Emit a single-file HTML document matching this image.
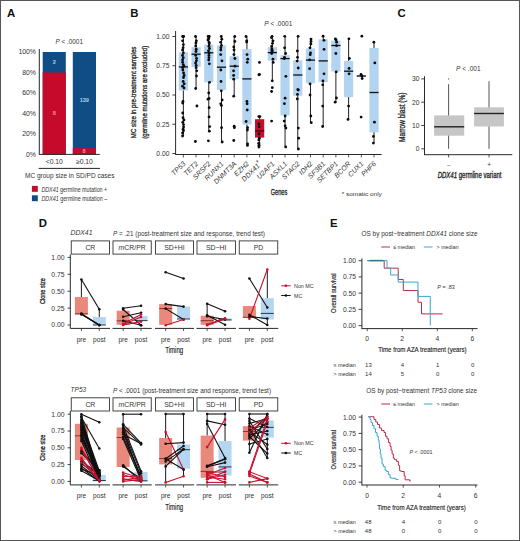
<!DOCTYPE html>
<html><head><meta charset="utf-8"><style>
html,body{margin:0;padding:0;background:#fff;}
body{width:520px;height:541px;overflow:hidden;}
svg{display:block;font-family:"Liberation Sans", sans-serif;}
</style></head><body>
<svg width="520" height="541" viewBox="0 0 520 541">
<rect x="0" y="0" width="520" height="541" fill="#fff"/>
<text x="7.00" y="16.90" font-size="11.4" text-anchor="start" fill="#111" font-weight="bold" >A</text>
<text x="69.20" y="43.70" font-size="6.4" text-anchor="middle" fill="#333" ><tspan font-style="italic">P</tspan> &lt; .0001</text>
<rect x="42.70" y="52.00" width="23.10" height="102.40" fill="#104d85" />
<rect x="42.70" y="72.48" width="23.10" height="81.92" fill="#c50a2c" />
<rect x="72.80" y="52.00" width="23.20" height="102.40" fill="#104d85" />
<rect x="72.80" y="148.20" width="23.20" height="6.20" fill="#c50a2c" />
<text x="36.00" y="156.80" font-size="6.9" text-anchor="end" fill="#333" >0%</text>
<text x="36.00" y="136.32" font-size="6.9" text-anchor="end" fill="#333" >20%</text>
<text x="36.00" y="115.84" font-size="6.9" text-anchor="end" fill="#333" >40%</text>
<text x="36.00" y="95.36" font-size="6.9" text-anchor="end" fill="#333" >60%</text>
<text x="36.00" y="74.88" font-size="6.9" text-anchor="end" fill="#333" >80%</text>
<text x="36.00" y="54.40" font-size="6.9" text-anchor="end" fill="#333" >100%</text>
<line x1="39.30" y1="49.00" x2="39.30" y2="154.90" stroke="#2a2a2a" stroke-width="1.0" />
<line x1="39.30" y1="154.40" x2="99.80" y2="154.40" stroke="#2a2a2a" stroke-width="1.0" />
<text x="54.20" y="63.80" font-size="5.6" text-anchor="middle" fill="#a9cdef" font-weight="bold" >2</text>
<text x="54.20" y="115.00" font-size="5.6" text-anchor="middle" fill="#ff8a9c" font-weight="bold" >8</text>
<text x="84.30" y="102.20" font-size="5.6" text-anchor="middle" fill="#a9cdef" font-weight="bold" >139</text>
<text x="84.00" y="153.40" font-size="5.6" text-anchor="middle" fill="#ff8a9c" font-weight="bold" >8</text>
<text x="54.30" y="163.80" font-size="6.8" text-anchor="middle" fill="#333" >&lt;0.10</text>
<text x="84.40" y="163.80" font-size="6.8" text-anchor="middle" fill="#333" >&#8805;0.10</text>
<line x1="38.70" y1="168.40" x2="100.00" y2="168.40" stroke="#222" stroke-width="1.0" />
<text x="25.00" y="178.40" font-size="7.3" text-anchor="start" fill="#333" textLength="89.5" lengthAdjust="spacingAndGlyphs" >MC group size in SD/PD cases</text>
<rect x="31.90" y="185.90" width="5.90" height="5.90" fill="#c50a2c" />
<text x="41.40" y="191.50" font-size="6.4" text-anchor="start" fill="#333" textLength="65.8" lengthAdjust="spacingAndGlyphs" ><tspan font-style="italic">DDX41</tspan> germline mutation +</text>
<rect x="31.90" y="195.30" width="5.90" height="5.90" fill="#104d85" />
<text x="41.40" y="200.90" font-size="6.4" text-anchor="start" fill="#333" textLength="65.8" lengthAdjust="spacingAndGlyphs" ><tspan font-style="italic">DDX41</tspan> germline mutation &#8211;</text>
<text x="130.30" y="16.90" font-size="11.4" text-anchor="start" fill="#111" font-weight="bold" >B</text>
<text x="278.30" y="26.40" font-size="6.5" text-anchor="middle" fill="#333" ><tspan font-style="italic">P</tspan> &lt; .0001</text>
<line x1="175.60" y1="31.00" x2="175.60" y2="155.00" stroke="#2a2a2a" stroke-width="1.0" />
<line x1="175.60" y1="154.50" x2="381.60" y2="154.50" stroke="#2a2a2a" stroke-width="1.0" />
<line x1="172.40" y1="153.50" x2="175.60" y2="153.50" stroke="#2a2a2a" stroke-width="0.9" />
<text x="169.40" y="155.90" font-size="6.7" text-anchor="end" fill="#333" >0.00</text>
<line x1="172.40" y1="124.25" x2="175.60" y2="124.25" stroke="#2a2a2a" stroke-width="0.9" />
<text x="169.40" y="126.65" font-size="6.7" text-anchor="end" fill="#333" >0.25</text>
<line x1="172.40" y1="95.00" x2="175.60" y2="95.00" stroke="#2a2a2a" stroke-width="0.9" />
<text x="169.40" y="97.40" font-size="6.7" text-anchor="end" fill="#333" >0.50</text>
<line x1="172.40" y1="65.75" x2="175.60" y2="65.75" stroke="#2a2a2a" stroke-width="0.9" />
<text x="169.40" y="68.15" font-size="6.7" text-anchor="end" fill="#333" >0.75</text>
<line x1="172.40" y1="36.50" x2="175.60" y2="36.50" stroke="#2a2a2a" stroke-width="0.9" />
<text x="169.40" y="38.90" font-size="6.7" text-anchor="end" fill="#333" >1.00</text>
<text x="136.50" y="92.40" font-size="8.0" text-anchor="middle" fill="#222" textLength="91.5" lengthAdjust="spacingAndGlyphs" transform="rotate(-90 136.50 92.40)" stroke="#222" stroke-width="0.3">MC size in pre-treatment samples</text>
<text x="146.70" y="92.30" font-size="8.0" text-anchor="middle" fill="#222" textLength="93.0" lengthAdjust="spacingAndGlyphs" transform="rotate(-90 146.70 92.30)" stroke="#222" stroke-width="0.3">(germline mutations are excluded)</text>
<line x1="183.35" y1="36.50" x2="183.35" y2="136.00" stroke="#222" stroke-width="1.0" />
<rect x="178.75" y="52.30" width="9.20" height="38.20" fill="#b2d4f0" />
<line x1="178.75" y1="66.90" x2="187.95" y2="66.90" stroke="#111" stroke-width="1.3" />
<circle cx="183.03" cy="36.50" r="1.4" fill="#0a0a0a"/>
<circle cx="182.72" cy="36.50" r="1.4" fill="#0a0a0a"/>
<circle cx="183.62" cy="36.50" r="1.4" fill="#0a0a0a"/>
<circle cx="182.58" cy="40.80" r="1.4" fill="#0a0a0a"/>
<circle cx="183.41" cy="44.60" r="1.4" fill="#0a0a0a"/>
<circle cx="183.11" cy="47.70" r="1.4" fill="#0a0a0a"/>
<circle cx="182.55" cy="50.00" r="1.4" fill="#0a0a0a"/>
<circle cx="183.36" cy="53.00" r="1.4" fill="#0a0a0a"/>
<circle cx="182.52" cy="55.40" r="1.4" fill="#0a0a0a"/>
<circle cx="183.23" cy="57.70" r="1.4" fill="#0a0a0a"/>
<circle cx="182.58" cy="60.00" r="1.4" fill="#0a0a0a"/>
<circle cx="182.61" cy="62.30" r="1.4" fill="#0a0a0a"/>
<circle cx="183.21" cy="64.60" r="1.4" fill="#0a0a0a"/>
<circle cx="183.94" cy="66.20" r="1.4" fill="#0a0a0a"/>
<circle cx="182.67" cy="67.70" r="1.4" fill="#0a0a0a"/>
<circle cx="182.85" cy="70.00" r="1.4" fill="#0a0a0a"/>
<circle cx="183.58" cy="73.00" r="1.4" fill="#0a0a0a"/>
<circle cx="184.16" cy="75.40" r="1.4" fill="#0a0a0a"/>
<circle cx="183.49" cy="77.50" r="1.4" fill="#0a0a0a"/>
<circle cx="183.16" cy="81.50" r="1.4" fill="#0a0a0a"/>
<circle cx="184.21" cy="83.80" r="1.4" fill="#0a0a0a"/>
<circle cx="182.53" cy="86.20" r="1.4" fill="#0a0a0a"/>
<circle cx="184.00" cy="88.00" r="1.4" fill="#0a0a0a"/>
<circle cx="182.97" cy="101.50" r="1.4" fill="#0a0a0a"/>
<circle cx="182.71" cy="103.00" r="1.4" fill="#0a0a0a"/>
<circle cx="182.66" cy="113.00" r="1.4" fill="#0a0a0a"/>
<circle cx="183.01" cy="117.70" r="1.4" fill="#0a0a0a"/>
<circle cx="183.92" cy="120.00" r="1.4" fill="#0a0a0a"/>
<circle cx="182.78" cy="122.30" r="1.4" fill="#0a0a0a"/>
<circle cx="183.50" cy="124.60" r="1.4" fill="#0a0a0a"/>
<circle cx="183.60" cy="127.00" r="1.4" fill="#0a0a0a"/>
<circle cx="183.12" cy="129.20" r="1.4" fill="#0a0a0a"/>
<circle cx="183.44" cy="130.80" r="1.4" fill="#0a0a0a"/>
<circle cx="182.56" cy="133.00" r="1.4" fill="#0a0a0a"/>
<circle cx="182.56" cy="136.00" r="1.4" fill="#0a0a0a"/>
<line x1="183.35" y1="154.50" x2="183.35" y2="157.40" stroke="#2a2a2a" stroke-width="0.8" />
<text x="185.95" y="164.20" font-size="7.0" text-anchor="end" fill="#333" font-style="italic" transform="rotate(-45 185.95 164.20)" >TP53</text>
<line x1="196.06" y1="36.50" x2="196.06" y2="88.50" stroke="#222" stroke-width="1.0" />
<rect x="191.46" y="47.20" width="9.20" height="19.80" fill="#b2d4f0" />
<line x1="191.46" y1="54.20" x2="200.66" y2="54.20" stroke="#111" stroke-width="1.3" />
<circle cx="195.53" cy="36.50" r="1.4" fill="#0a0a0a"/>
<circle cx="196.39" cy="40.80" r="1.4" fill="#0a0a0a"/>
<circle cx="195.93" cy="43.00" r="1.4" fill="#0a0a0a"/>
<circle cx="195.73" cy="46.00" r="1.4" fill="#0a0a0a"/>
<circle cx="196.22" cy="49.20" r="1.4" fill="#0a0a0a"/>
<circle cx="195.98" cy="51.50" r="1.4" fill="#0a0a0a"/>
<circle cx="195.70" cy="55.40" r="1.4" fill="#0a0a0a"/>
<circle cx="196.59" cy="58.50" r="1.4" fill="#0a0a0a"/>
<circle cx="196.42" cy="60.80" r="1.4" fill="#0a0a0a"/>
<circle cx="195.60" cy="63.00" r="1.4" fill="#0a0a0a"/>
<circle cx="196.20" cy="65.40" r="1.4" fill="#0a0a0a"/>
<circle cx="196.11" cy="67.70" r="1.4" fill="#0a0a0a"/>
<circle cx="196.74" cy="70.80" r="1.4" fill="#0a0a0a"/>
<circle cx="196.48" cy="76.00" r="1.4" fill="#0a0a0a"/>
<circle cx="195.68" cy="88.50" r="1.4" fill="#0a0a0a"/>
<circle cx="196.93" cy="106.00" r="1.4" fill="#0a0a0a"/>
<circle cx="195.37" cy="141.50" r="1.4" fill="#0a0a0a"/>
<line x1="196.06" y1="154.50" x2="196.06" y2="157.40" stroke="#2a2a2a" stroke-width="0.8" />
<text x="198.66" y="164.20" font-size="7.0" text-anchor="end" fill="#333" font-style="italic" transform="rotate(-45 198.66 164.20)" >TET2</text>
<line x1="208.77" y1="36.50" x2="208.77" y2="131.50" stroke="#222" stroke-width="1.0" />
<rect x="204.17" y="44.60" width="9.20" height="37.70" fill="#b2d4f0" />
<line x1="204.17" y1="52.80" x2="213.37" y2="52.80" stroke="#111" stroke-width="1.3" />
<circle cx="208.63" cy="36.50" r="1.4" fill="#0a0a0a"/>
<circle cx="209.24" cy="36.50" r="1.4" fill="#0a0a0a"/>
<circle cx="208.15" cy="36.50" r="1.4" fill="#0a0a0a"/>
<circle cx="208.75" cy="38.50" r="1.4" fill="#0a0a0a"/>
<circle cx="207.94" cy="40.00" r="1.4" fill="#0a0a0a"/>
<circle cx="209.08" cy="42.30" r="1.4" fill="#0a0a0a"/>
<circle cx="209.25" cy="43.80" r="1.4" fill="#0a0a0a"/>
<circle cx="208.91" cy="46.20" r="1.4" fill="#0a0a0a"/>
<circle cx="209.45" cy="48.50" r="1.4" fill="#0a0a0a"/>
<circle cx="208.44" cy="50.80" r="1.4" fill="#0a0a0a"/>
<circle cx="209.13" cy="53.00" r="1.4" fill="#0a0a0a"/>
<circle cx="208.94" cy="55.40" r="1.4" fill="#0a0a0a"/>
<circle cx="208.92" cy="57.70" r="1.4" fill="#0a0a0a"/>
<circle cx="208.70" cy="60.00" r="1.4" fill="#0a0a0a"/>
<circle cx="209.39" cy="63.80" r="1.4" fill="#0a0a0a"/>
<circle cx="209.57" cy="82.30" r="1.4" fill="#0a0a0a"/>
<circle cx="208.73" cy="93.00" r="1.4" fill="#0a0a0a"/>
<circle cx="209.07" cy="98.50" r="1.4" fill="#0a0a0a"/>
<circle cx="207.98" cy="99.20" r="1.4" fill="#0a0a0a"/>
<circle cx="209.14" cy="107.70" r="1.4" fill="#0a0a0a"/>
<circle cx="209.04" cy="116.90" r="1.4" fill="#0a0a0a"/>
<circle cx="209.66" cy="126.60" r="1.4" fill="#0a0a0a"/>
<circle cx="209.35" cy="131.20" r="1.4" fill="#0a0a0a"/>
<circle cx="208.39" cy="140.80" r="1.4" fill="#0a0a0a"/>
<line x1="208.77" y1="154.50" x2="208.77" y2="157.40" stroke="#2a2a2a" stroke-width="0.8" />
<text x="211.37" y="164.20" font-size="7.0" text-anchor="end" fill="#333" font-style="italic" transform="rotate(-45 211.37 164.20)" >SRSF2</text>
<line x1="221.49" y1="36.50" x2="221.49" y2="142.00" stroke="#222" stroke-width="1.0" />
<rect x="216.89" y="45.40" width="9.20" height="44.60" fill="#b2d4f0" />
<line x1="216.89" y1="67.20" x2="226.09" y2="67.20" stroke="#111" stroke-width="1.3" />
<circle cx="221.28" cy="36.50" r="1.4" fill="#0a0a0a"/>
<circle cx="221.79" cy="39.20" r="1.4" fill="#0a0a0a"/>
<circle cx="220.63" cy="42.30" r="1.4" fill="#0a0a0a"/>
<circle cx="221.42" cy="45.40" r="1.4" fill="#0a0a0a"/>
<circle cx="220.89" cy="47.70" r="1.4" fill="#0a0a0a"/>
<circle cx="220.80" cy="50.00" r="1.4" fill="#0a0a0a"/>
<circle cx="220.69" cy="54.60" r="1.4" fill="#0a0a0a"/>
<circle cx="221.97" cy="60.80" r="1.4" fill="#0a0a0a"/>
<circle cx="220.82" cy="70.00" r="1.4" fill="#0a0a0a"/>
<circle cx="221.03" cy="81.50" r="1.4" fill="#0a0a0a"/>
<circle cx="221.29" cy="90.80" r="1.4" fill="#0a0a0a"/>
<circle cx="222.15" cy="100.00" r="1.4" fill="#0a0a0a"/>
<circle cx="220.73" cy="103.80" r="1.4" fill="#0a0a0a"/>
<circle cx="221.39" cy="105.40" r="1.4" fill="#0a0a0a"/>
<circle cx="221.57" cy="127.70" r="1.4" fill="#0a0a0a"/>
<circle cx="222.18" cy="142.00" r="1.4" fill="#0a0a0a"/>
<line x1="221.49" y1="154.50" x2="221.49" y2="157.40" stroke="#2a2a2a" stroke-width="0.8" />
<text x="224.09" y="164.20" font-size="7.0" text-anchor="end" fill="#333" font-style="italic" transform="rotate(-45 224.09 164.20)" >RUNX1</text>
<line x1="234.20" y1="36.50" x2="234.20" y2="96.20" stroke="#222" stroke-width="1.0" />
<rect x="229.60" y="56.20" width="9.20" height="23.00" fill="#b2d4f0" />
<line x1="229.60" y1="66.20" x2="238.80" y2="66.20" stroke="#111" stroke-width="1.3" />
<circle cx="234.77" cy="36.50" r="1.4" fill="#0a0a0a"/>
<circle cx="234.85" cy="41.50" r="1.4" fill="#0a0a0a"/>
<circle cx="233.80" cy="47.00" r="1.4" fill="#0a0a0a"/>
<circle cx="234.05" cy="50.00" r="1.4" fill="#0a0a0a"/>
<circle cx="233.94" cy="54.60" r="1.4" fill="#0a0a0a"/>
<circle cx="234.89" cy="58.50" r="1.4" fill="#0a0a0a"/>
<circle cx="235.02" cy="66.20" r="1.4" fill="#0a0a0a"/>
<circle cx="233.57" cy="70.80" r="1.4" fill="#0a0a0a"/>
<circle cx="233.62" cy="75.40" r="1.4" fill="#0a0a0a"/>
<circle cx="233.72" cy="79.20" r="1.4" fill="#0a0a0a"/>
<circle cx="233.72" cy="96.20" r="1.4" fill="#0a0a0a"/>
<circle cx="234.17" cy="126.20" r="1.4" fill="#0a0a0a"/>
<circle cx="234.36" cy="127.70" r="1.4" fill="#0a0a0a"/>
<circle cx="233.77" cy="140.50" r="1.4" fill="#0a0a0a"/>
<line x1="234.20" y1="154.50" x2="234.20" y2="157.40" stroke="#2a2a2a" stroke-width="0.8" />
<text x="236.80" y="164.20" font-size="7.0" text-anchor="end" fill="#333" font-style="italic" transform="rotate(-45 236.80 164.20)" >DNMT3A</text>
<line x1="246.91" y1="36.50" x2="246.91" y2="146.00" stroke="#222" stroke-width="1.0" />
<rect x="242.31" y="49.20" width="9.20" height="75.40" fill="#b2d4f0" />
<line x1="242.31" y1="78.90" x2="251.51" y2="78.90" stroke="#111" stroke-width="1.3" />
<circle cx="246.02" cy="36.50" r="1.4" fill="#0a0a0a"/>
<circle cx="246.76" cy="40.80" r="1.4" fill="#0a0a0a"/>
<circle cx="246.67" cy="42.00" r="1.4" fill="#0a0a0a"/>
<circle cx="247.03" cy="54.60" r="1.4" fill="#0a0a0a"/>
<circle cx="247.73" cy="59.20" r="1.4" fill="#0a0a0a"/>
<circle cx="247.25" cy="62.30" r="1.4" fill="#0a0a0a"/>
<circle cx="246.94" cy="101.50" r="1.4" fill="#0a0a0a"/>
<circle cx="247.12" cy="103.80" r="1.4" fill="#0a0a0a"/>
<circle cx="247.23" cy="110.00" r="1.4" fill="#0a0a0a"/>
<circle cx="246.11" cy="121.50" r="1.4" fill="#0a0a0a"/>
<circle cx="247.63" cy="127.70" r="1.4" fill="#0a0a0a"/>
<circle cx="247.41" cy="130.00" r="1.4" fill="#0a0a0a"/>
<circle cx="247.58" cy="143.80" r="1.4" fill="#0a0a0a"/>
<circle cx="247.45" cy="145.40" r="1.4" fill="#0a0a0a"/>
<line x1="246.91" y1="154.50" x2="246.91" y2="157.40" stroke="#2a2a2a" stroke-width="0.8" />
<text x="249.51" y="164.20" font-size="7.0" text-anchor="end" fill="#333" font-style="italic" transform="rotate(-45 249.51 164.20)" >EZH2</text>
<line x1="259.62" y1="116.60" x2="259.62" y2="147.10" stroke="#222" stroke-width="1.0" />
<rect x="255.02" y="119.20" width="9.20" height="18.40" fill="#c4102e" />
<line x1="255.02" y1="130.90" x2="264.22" y2="130.90" stroke="#4a0010" stroke-width="1.3" />
<circle cx="259.43" cy="62.40" r="1.4" fill="#0a0a0a"/>
<circle cx="259.44" cy="74.40" r="1.4" fill="#0a0a0a"/>
<circle cx="258.91" cy="74.80" r="1.4" fill="#0a0a0a"/>
<circle cx="259.86" cy="116.60" r="1.4" fill="#0a0a0a"/>
<circle cx="258.83" cy="116.60" r="1.4" fill="#0a0a0a"/>
<circle cx="258.84" cy="124.00" r="1.4" fill="#0a0a0a"/>
<circle cx="259.10" cy="126.80" r="1.4" fill="#0a0a0a"/>
<circle cx="259.01" cy="133.80" r="1.4" fill="#0a0a0a"/>
<circle cx="259.33" cy="138.20" r="1.4" fill="#0a0a0a"/>
<circle cx="258.82" cy="140.10" r="1.4" fill="#0a0a0a"/>
<circle cx="258.72" cy="143.30" r="1.4" fill="#0a0a0a"/>
<circle cx="258.99" cy="145.20" r="1.4" fill="#0a0a0a"/>
<circle cx="258.90" cy="147.10" r="1.4" fill="#0a0a0a"/>
<line x1="259.62" y1="154.50" x2="259.62" y2="157.40" stroke="#2a2a2a" stroke-width="0.8" />
<text x="262.22" y="164.20" font-size="7.0" text-anchor="end" fill="#333" font-style="italic" transform="rotate(-45 262.22 164.20)" >DDX41<tspan font-style="normal" dy="-2">*</tspan></text>
<line x1="272.33" y1="36.30" x2="272.33" y2="80.80" stroke="#222" stroke-width="1.0" />
<rect x="267.73" y="47.10" width="9.20" height="13.40" fill="#b2d4f0" />
<line x1="267.73" y1="52.60" x2="276.93" y2="52.60" stroke="#111" stroke-width="1.3" />
<circle cx="272.09" cy="36.30" r="1.4" fill="#0a0a0a"/>
<circle cx="271.48" cy="37.60" r="1.4" fill="#0a0a0a"/>
<circle cx="273.01" cy="40.80" r="1.4" fill="#0a0a0a"/>
<circle cx="272.54" cy="43.30" r="1.4" fill="#0a0a0a"/>
<circle cx="271.70" cy="46.50" r="1.4" fill="#0a0a0a"/>
<circle cx="271.89" cy="49.00" r="1.4" fill="#0a0a0a"/>
<circle cx="272.06" cy="50.30" r="1.4" fill="#0a0a0a"/>
<circle cx="272.09" cy="51.60" r="1.4" fill="#0a0a0a"/>
<circle cx="271.66" cy="53.50" r="1.4" fill="#0a0a0a"/>
<circle cx="272.96" cy="59.20" r="1.4" fill="#0a0a0a"/>
<circle cx="273.22" cy="62.40" r="1.4" fill="#0a0a0a"/>
<circle cx="272.27" cy="80.80" r="1.4" fill="#0a0a0a"/>
<circle cx="272.30" cy="87.70" r="1.4" fill="#0a0a0a"/>
<circle cx="271.59" cy="91.50" r="1.4" fill="#0a0a0a"/>
<circle cx="271.62" cy="121.10" r="1.4" fill="#0a0a0a"/>
<line x1="272.33" y1="154.50" x2="272.33" y2="157.40" stroke="#2a2a2a" stroke-width="0.8" />
<text x="274.93" y="164.20" font-size="7.0" text-anchor="end" fill="#333" font-style="italic" transform="rotate(-45 274.93 164.20)" >U2AF1</text>
<line x1="285.05" y1="36.30" x2="285.05" y2="146.90" stroke="#222" stroke-width="1.0" />
<rect x="280.45" y="55.10" width="9.20" height="60.30" fill="#b2d4f0" />
<line x1="280.45" y1="58.60" x2="289.65" y2="58.60" stroke="#111" stroke-width="1.3" />
<circle cx="284.76" cy="36.30" r="1.4" fill="#0a0a0a"/>
<circle cx="284.62" cy="47.80" r="1.4" fill="#0a0a0a"/>
<circle cx="285.64" cy="53.50" r="1.4" fill="#0a0a0a"/>
<circle cx="284.44" cy="57.30" r="1.4" fill="#0a0a0a"/>
<circle cx="284.19" cy="58.60" r="1.4" fill="#0a0a0a"/>
<circle cx="285.86" cy="76.30" r="1.4" fill="#0a0a0a"/>
<circle cx="285.10" cy="98.20" r="1.4" fill="#0a0a0a"/>
<circle cx="284.41" cy="103.70" r="1.4" fill="#0a0a0a"/>
<circle cx="285.12" cy="116.00" r="1.4" fill="#0a0a0a"/>
<circle cx="284.19" cy="121.10" r="1.4" fill="#0a0a0a"/>
<circle cx="285.10" cy="125.80" r="1.4" fill="#0a0a0a"/>
<circle cx="285.91" cy="128.10" r="1.4" fill="#0a0a0a"/>
<circle cx="285.70" cy="146.90" r="1.4" fill="#0a0a0a"/>
<line x1="285.05" y1="154.50" x2="285.05" y2="157.40" stroke="#2a2a2a" stroke-width="0.8" />
<text x="287.65" y="164.20" font-size="7.0" text-anchor="end" fill="#333" font-style="italic" transform="rotate(-45 287.65 164.20)" >ASXL1</text>
<line x1="297.76" y1="36.30" x2="297.76" y2="149.00" stroke="#222" stroke-width="1.0" />
<rect x="293.16" y="60.20" width="9.20" height="35.50" fill="#b2d4f0" />
<line x1="293.16" y1="75.00" x2="302.36" y2="75.00" stroke="#111" stroke-width="1.3" />
<circle cx="298.11" cy="36.30" r="1.4" fill="#0a0a0a"/>
<circle cx="297.33" cy="51.00" r="1.4" fill="#0a0a0a"/>
<circle cx="297.52" cy="57.30" r="1.4" fill="#0a0a0a"/>
<circle cx="297.16" cy="61.10" r="1.4" fill="#0a0a0a"/>
<circle cx="298.25" cy="68.00" r="1.4" fill="#0a0a0a"/>
<circle cx="297.82" cy="89.60" r="1.4" fill="#0a0a0a"/>
<circle cx="298.26" cy="90.00" r="1.4" fill="#0a0a0a"/>
<circle cx="297.45" cy="94.40" r="1.4" fill="#0a0a0a"/>
<circle cx="297.26" cy="98.90" r="1.4" fill="#0a0a0a"/>
<circle cx="298.32" cy="128.10" r="1.4" fill="#0a0a0a"/>
<circle cx="298.63" cy="138.20" r="1.4" fill="#0a0a0a"/>
<circle cx="298.39" cy="149.00" r="1.4" fill="#0a0a0a"/>
<line x1="297.76" y1="154.50" x2="297.76" y2="157.40" stroke="#2a2a2a" stroke-width="0.8" />
<text x="300.36" y="164.20" font-size="7.0" text-anchor="end" fill="#333" font-style="italic" transform="rotate(-45 300.36 164.20)" >STAG2</text>
<line x1="310.47" y1="39.10" x2="310.47" y2="122.70" stroke="#222" stroke-width="1.0" />
<rect x="305.87" y="48.40" width="9.20" height="34.90" fill="#b2d4f0" />
<line x1="305.87" y1="60.10" x2="315.07" y2="60.10" stroke="#111" stroke-width="1.3" />
<circle cx="311.02" cy="39.10" r="1.4" fill="#0a0a0a"/>
<circle cx="311.04" cy="41.40" r="1.4" fill="#0a0a0a"/>
<circle cx="310.90" cy="44.00" r="1.4" fill="#0a0a0a"/>
<circle cx="309.98" cy="47.80" r="1.4" fill="#0a0a0a"/>
<circle cx="310.50" cy="52.80" r="1.4" fill="#0a0a0a"/>
<circle cx="310.21" cy="54.70" r="1.4" fill="#0a0a0a"/>
<circle cx="309.62" cy="59.80" r="1.4" fill="#0a0a0a"/>
<circle cx="309.62" cy="68.70" r="1.4" fill="#0a0a0a"/>
<circle cx="310.07" cy="83.90" r="1.4" fill="#0a0a0a"/>
<circle cx="310.04" cy="95.00" r="1.4" fill="#0a0a0a"/>
<circle cx="310.82" cy="116.00" r="1.4" fill="#0a0a0a"/>
<circle cx="311.29" cy="122.70" r="1.4" fill="#0a0a0a"/>
<line x1="310.47" y1="154.50" x2="310.47" y2="157.40" stroke="#2a2a2a" stroke-width="0.8" />
<text x="313.07" y="164.20" font-size="7.0" text-anchor="end" fill="#333" font-style="italic" transform="rotate(-45 313.07 164.20)" >IDH2</text>
<line x1="323.18" y1="36.20" x2="323.18" y2="126.50" stroke="#222" stroke-width="1.0" />
<rect x="318.58" y="39.30" width="9.20" height="42.90" fill="#b2d4f0" />
<line x1="318.58" y1="60.90" x2="327.78" y2="60.90" stroke="#111" stroke-width="1.3" />
<circle cx="323.09" cy="36.20" r="1.4" fill="#0a0a0a"/>
<circle cx="323.97" cy="40.30" r="1.4" fill="#0a0a0a"/>
<circle cx="324.06" cy="49.30" r="1.4" fill="#0a0a0a"/>
<circle cx="324.00" cy="73.80" r="1.4" fill="#0a0a0a"/>
<circle cx="322.94" cy="80.90" r="1.4" fill="#0a0a0a"/>
<circle cx="322.68" cy="84.80" r="1.4" fill="#0a0a0a"/>
<circle cx="322.69" cy="106.10" r="1.4" fill="#0a0a0a"/>
<circle cx="322.64" cy="126.50" r="1.4" fill="#0a0a0a"/>
<line x1="323.18" y1="154.50" x2="323.18" y2="157.40" stroke="#2a2a2a" stroke-width="0.8" />
<text x="325.78" y="164.20" font-size="7.0" text-anchor="end" fill="#333" font-style="italic" transform="rotate(-45 325.78 164.20)" >SF3B1</text>
<line x1="335.89" y1="39.00" x2="335.89" y2="102.20" stroke="#222" stroke-width="1.0" />
<rect x="331.29" y="40.60" width="9.20" height="30.90" fill="#b2d4f0" />
<line x1="331.29" y1="45.50" x2="340.49" y2="45.50" stroke="#111" stroke-width="1.3" />
<circle cx="335.36" cy="39.00" r="1.4" fill="#0a0a0a"/>
<circle cx="336.12" cy="40.00" r="1.4" fill="#0a0a0a"/>
<circle cx="336.61" cy="42.20" r="1.4" fill="#0a0a0a"/>
<circle cx="336.51" cy="45.70" r="1.4" fill="#0a0a0a"/>
<circle cx="335.86" cy="53.50" r="1.4" fill="#0a0a0a"/>
<circle cx="336.17" cy="71.90" r="1.4" fill="#0a0a0a"/>
<circle cx="336.43" cy="98.00" r="1.4" fill="#0a0a0a"/>
<circle cx="335.15" cy="102.20" r="1.4" fill="#0a0a0a"/>
<line x1="335.89" y1="154.50" x2="335.89" y2="157.40" stroke="#2a2a2a" stroke-width="0.8" />
<text x="338.49" y="164.20" font-size="7.0" text-anchor="end" fill="#333" font-style="italic" transform="rotate(-45 338.49 164.20)" >SETBP1</text>
<line x1="348.61" y1="38.80" x2="348.61" y2="119.40" stroke="#222" stroke-width="1.0" />
<rect x="344.01" y="60.90" width="9.20" height="36.20" fill="#b2d4f0" />
<line x1="344.01" y1="71.20" x2="353.21" y2="71.20" stroke="#111" stroke-width="1.3" />
<circle cx="348.90" cy="38.80" r="1.4" fill="#0a0a0a"/>
<circle cx="349.34" cy="58.40" r="1.4" fill="#0a0a0a"/>
<circle cx="349.11" cy="68.40" r="1.4" fill="#0a0a0a"/>
<circle cx="349.06" cy="73.80" r="1.4" fill="#0a0a0a"/>
<circle cx="348.57" cy="106.10" r="1.4" fill="#0a0a0a"/>
<circle cx="348.03" cy="119.40" r="1.4" fill="#0a0a0a"/>
<line x1="348.61" y1="154.50" x2="348.61" y2="157.40" stroke="#2a2a2a" stroke-width="0.8" />
<text x="351.21" y="164.20" font-size="7.0" text-anchor="end" fill="#333" font-style="italic" transform="rotate(-45 351.21 164.20)" >BCOR</text>
<line x1="361.32" y1="75.30" x2="361.32" y2="76.80" stroke="#222" stroke-width="1.0" />
<rect x="356.72" y="75.30" width="9.20" height="1.50" fill="#b2d4f0" />
<line x1="356.72" y1="76.00" x2="365.92" y2="76.00" stroke="#111" stroke-width="1.3" />
<circle cx="361.84" cy="36.20" r="1.4" fill="#0a0a0a"/>
<circle cx="361.02" cy="74.50" r="1.4" fill="#0a0a0a"/>
<circle cx="361.86" cy="76.00" r="1.4" fill="#0a0a0a"/>
<circle cx="362.17" cy="78.50" r="1.4" fill="#0a0a0a"/>
<circle cx="361.13" cy="117.10" r="1.4" fill="#0a0a0a"/>
<line x1="361.32" y1="154.50" x2="361.32" y2="157.40" stroke="#2a2a2a" stroke-width="0.8" />
<text x="363.92" y="164.20" font-size="7.0" text-anchor="end" fill="#333" font-style="italic" transform="rotate(-45 363.92 164.20)" >CUX1</text>
<line x1="374.03" y1="42.20" x2="374.03" y2="143.10" stroke="#222" stroke-width="1.0" />
<rect x="369.43" y="48.00" width="9.20" height="84.30" fill="#b2d4f0" />
<line x1="369.43" y1="92.50" x2="378.63" y2="92.50" stroke="#111" stroke-width="1.3" />
<circle cx="373.85" cy="42.20" r="1.4" fill="#0a0a0a"/>
<circle cx="374.83" cy="62.90" r="1.4" fill="#0a0a0a"/>
<circle cx="374.43" cy="122.20" r="1.4" fill="#0a0a0a"/>
<circle cx="373.44" cy="136.40" r="1.4" fill="#0a0a0a"/>
<circle cx="373.36" cy="143.10" r="1.4" fill="#0a0a0a"/>
<line x1="374.03" y1="154.50" x2="374.03" y2="157.40" stroke="#2a2a2a" stroke-width="0.8" />
<text x="376.63" y="164.20" font-size="7.0" text-anchor="end" fill="#333" font-style="italic" transform="rotate(-45 376.63 164.20)" >PHF6</text>
<text x="279.00" y="195.00" font-size="8.2" text-anchor="middle" fill="#222" textLength="16.5" lengthAdjust="spacingAndGlyphs" stroke="#222" stroke-width="0.3">Genes</text>
<text x="341.80" y="195.60" font-size="6.0" text-anchor="start" fill="#333" textLength="40.0" lengthAdjust="spacingAndGlyphs" >* somatic only</text>
<text x="397.40" y="17.30" font-size="11.4" text-anchor="start" fill="#111" font-weight="bold" >C</text>
<text x="468.30" y="70.90" font-size="6.5" text-anchor="middle" fill="#333" ><tspan font-style="italic">P</tspan> &lt; .001</text>
<line x1="424.50" y1="76.20" x2="424.50" y2="155.10" stroke="#2a2a2a" stroke-width="1.0" />
<line x1="424.50" y1="154.70" x2="512.30" y2="154.70" stroke="#2a2a2a" stroke-width="1.0" />
<line x1="421.30" y1="148.80" x2="424.50" y2="148.80" stroke="#2a2a2a" stroke-width="0.9" />
<text x="419.40" y="151.20" font-size="6.7" text-anchor="end" fill="#333" >0</text>
<line x1="421.30" y1="125.50" x2="424.50" y2="125.50" stroke="#2a2a2a" stroke-width="0.9" />
<text x="419.40" y="127.90" font-size="6.7" text-anchor="end" fill="#333" >10</text>
<line x1="421.30" y1="102.20" x2="424.50" y2="102.20" stroke="#2a2a2a" stroke-width="0.9" />
<text x="419.40" y="104.60" font-size="6.7" text-anchor="end" fill="#333" >20</text>
<line x1="421.30" y1="78.90" x2="424.50" y2="78.90" stroke="#2a2a2a" stroke-width="0.9" />
<text x="419.40" y="81.30" font-size="6.7" text-anchor="end" fill="#333" >30</text>
<line x1="448.60" y1="84.20" x2="448.60" y2="148.80" stroke="#555" stroke-width="1.0" />
<rect x="434.10" y="115.40" width="30.10" height="20.30" fill="#c6c6c6" />
<line x1="434.10" y1="126.80" x2="464.20" y2="126.80" stroke="#222" stroke-width="1.4" />
<circle cx="448.60" cy="78.90" r="0.6" fill="#555"/>
<line x1="489.00" y1="81.20" x2="489.00" y2="148.80" stroke="#555" stroke-width="1.0" />
<rect x="474.10" y="107.30" width="29.80" height="19.20" fill="#c6c6c6" />
<line x1="474.10" y1="113.50" x2="503.90" y2="113.50" stroke="#222" stroke-width="1.4" />
<line x1="448.60" y1="154.60" x2="448.60" y2="157.40" stroke="#2a2a2a" stroke-width="0.8" />
<line x1="489.00" y1="154.60" x2="489.00" y2="157.40" stroke="#2a2a2a" stroke-width="0.8" />
<text x="448.60" y="167.30" font-size="6.0" text-anchor="middle" fill="#333" >&#8211;</text>
<text x="489.00" y="167.30" font-size="6.4" text-anchor="middle" fill="#333" >+</text>
<text x="469.60" y="177.80" font-size="8.2" text-anchor="middle" fill="#222" textLength="63.9" lengthAdjust="spacingAndGlyphs" stroke="#222" stroke-width="0.3"><tspan font-style="italic">DDX41</tspan> germline variant</text>
<text x="405.40" y="117.20" font-size="8.2" text-anchor="middle" fill="#222" textLength="49.5" lengthAdjust="spacingAndGlyphs" transform="rotate(-90 405.40 117.20)" stroke="#222" stroke-width="0.3">Marrow blast (%)</text>
<text x="38.70" y="226.50" font-size="11.4" text-anchor="start" fill="#111" font-weight="bold" >D</text>
<text x="70.60" y="235.40" font-size="6.7" text-anchor="start" fill="#333" font-style="italic" textLength="21.8" lengthAdjust="spacingAndGlyphs" >DDX41</text>
<text x="113.00" y="235.60" font-size="6.7" text-anchor="start" fill="#333" textLength="152.0" lengthAdjust="spacingAndGlyphs" ><tspan font-style="italic">P</tspan> = .21 (post-treatment size and response, trend test)</text>
<rect x="71.25" y="240.90" width="38.25" height="13.20" fill="#fff" stroke="#333" stroke-width="0.9"/>
<text x="90.38" y="249.70" font-size="6.9" text-anchor="middle" fill="#333" >CR</text>
<line x1="70.75" y1="328.40" x2="110.00" y2="328.40" stroke="#2a2a2a" stroke-width="1.0" />
<line x1="81.40" y1="328.40" x2="81.40" y2="331.00" stroke="#2a2a2a" stroke-width="0.8" />
<line x1="99.30" y1="328.40" x2="99.30" y2="331.00" stroke="#2a2a2a" stroke-width="0.8" />
<text x="81.40" y="341.60" font-size="6.6" text-anchor="middle" fill="#333" >pre</text>
<text x="99.30" y="341.60" font-size="6.6" text-anchor="middle" fill="#333" >post</text>
<line x1="81.40" y1="279.50" x2="81.40" y2="297.00" stroke="#1a1a1a" stroke-width="1.0" />
<line x1="99.30" y1="309.30" x2="99.30" y2="317.00" stroke="#1a1a1a" stroke-width="1.0" />
<rect x="74.90" y="297.00" width="13.00" height="17.50" fill="#e8897c" />
<line x1="74.90" y1="313.80" x2="87.90" y2="313.80" stroke="#922e2c" stroke-width="1.0" />
<rect x="92.80" y="317.00" width="13.00" height="8.00" fill="#b5d6f1" />
<line x1="92.80" y1="325.00" x2="105.80" y2="325.00" stroke="#223a52" stroke-width="1.0" />
<line x1="81.40" y1="279.50" x2="99.30" y2="309.30" stroke="#111" stroke-width="1.1" />
<line x1="81.40" y1="313.60" x2="99.30" y2="325.00" stroke="#111" stroke-width="1.1" />
<line x1="81.40" y1="314.40" x2="99.30" y2="325.00" stroke="#111" stroke-width="1.1" />
<line x1="81.40" y1="314.00" x2="99.30" y2="325.30" stroke="#111" stroke-width="1.1" />
<circle cx="81.40" cy="279.50" r="1.3" fill="#111"/>
<circle cx="99.30" cy="309.30" r="1.3" fill="#111"/>
<circle cx="81.40" cy="313.60" r="1.3" fill="#111"/>
<circle cx="99.30" cy="325.00" r="1.3" fill="#111"/>
<circle cx="81.40" cy="314.40" r="1.3" fill="#111"/>
<circle cx="99.30" cy="325.00" r="1.3" fill="#111"/>
<circle cx="81.40" cy="314.00" r="1.3" fill="#111"/>
<circle cx="99.30" cy="325.30" r="1.3" fill="#111"/>
<rect x="113.00" y="240.90" width="38.25" height="13.20" fill="#fff" stroke="#333" stroke-width="0.9"/>
<text x="132.12" y="249.70" font-size="6.9" text-anchor="middle" fill="#333" ><tspan font-style="italic">m</tspan>CR/PR</text>
<line x1="112.50" y1="328.40" x2="151.75" y2="328.40" stroke="#2a2a2a" stroke-width="1.0" />
<line x1="123.15" y1="328.40" x2="123.15" y2="331.00" stroke="#2a2a2a" stroke-width="0.8" />
<line x1="141.05" y1="328.40" x2="141.05" y2="331.00" stroke="#2a2a2a" stroke-width="0.8" />
<text x="123.15" y="341.60" font-size="6.6" text-anchor="middle" fill="#333" >pre</text>
<text x="141.05" y="341.60" font-size="6.6" text-anchor="middle" fill="#333" >post</text>
<rect x="116.65" y="310.70" width="13.00" height="14.10" fill="#e8897c" />
<line x1="116.65" y1="320.80" x2="129.65" y2="320.80" stroke="#922e2c" stroke-width="1.0" />
<rect x="134.55" y="316.10" width="13.00" height="4.50" fill="#b5d6f1" />
<line x1="134.55" y1="320.60" x2="147.55" y2="320.60" stroke="#223a52" stroke-width="1.0" />
<line x1="123.15" y1="308.20" x2="141.05" y2="305.80" stroke="#111" stroke-width="1.1" />
<line x1="123.15" y1="309.50" x2="141.05" y2="325.20" stroke="#111" stroke-width="1.1" />
<line x1="123.15" y1="316.70" x2="141.05" y2="312.80" stroke="#111" stroke-width="1.1" />
<line x1="123.15" y1="320.80" x2="141.05" y2="325.20" stroke="#111" stroke-width="1.1" />
<line x1="123.15" y1="323.80" x2="141.05" y2="314.50" stroke="#c8102e" stroke-width="1.1" />
<line x1="123.15" y1="324.50" x2="141.05" y2="317.00" stroke="#c8102e" stroke-width="1.1" />
<line x1="123.15" y1="325.00" x2="141.05" y2="321.60" stroke="#c8102e" stroke-width="1.1" />
<circle cx="123.15" cy="308.20" r="1.3" fill="#111"/>
<circle cx="141.05" cy="305.80" r="1.3" fill="#111"/>
<circle cx="123.15" cy="309.50" r="1.3" fill="#111"/>
<circle cx="141.05" cy="325.20" r="1.3" fill="#111"/>
<circle cx="123.15" cy="316.70" r="1.3" fill="#111"/>
<circle cx="141.05" cy="312.80" r="1.3" fill="#111"/>
<circle cx="123.15" cy="320.80" r="1.3" fill="#111"/>
<circle cx="141.05" cy="325.20" r="1.3" fill="#111"/>
<circle cx="123.15" cy="323.80" r="1.3" fill="#c8102e"/>
<circle cx="141.05" cy="314.50" r="1.3" fill="#c8102e"/>
<circle cx="123.15" cy="324.50" r="1.3" fill="#c8102e"/>
<circle cx="141.05" cy="317.00" r="1.3" fill="#c8102e"/>
<circle cx="123.15" cy="325.00" r="1.3" fill="#c8102e"/>
<circle cx="141.05" cy="321.60" r="1.3" fill="#c8102e"/>
<rect x="155.50" y="240.90" width="38.00" height="13.20" fill="#fff" stroke="#333" stroke-width="0.9"/>
<text x="174.50" y="249.70" font-size="6.9" text-anchor="middle" fill="#333" >SD+HI</text>
<line x1="155.00" y1="328.40" x2="194.00" y2="328.40" stroke="#2a2a2a" stroke-width="1.0" />
<line x1="165.65" y1="328.40" x2="165.65" y2="331.00" stroke="#2a2a2a" stroke-width="0.8" />
<line x1="183.55" y1="328.40" x2="183.55" y2="331.00" stroke="#2a2a2a" stroke-width="0.8" />
<text x="165.65" y="341.60" font-size="6.6" text-anchor="middle" fill="#333" >pre</text>
<text x="183.55" y="341.60" font-size="6.6" text-anchor="middle" fill="#333" >post</text>
<rect x="159.15" y="304.10" width="13.00" height="20.70" fill="#e8897c" />
<line x1="159.15" y1="308.60" x2="172.15" y2="308.60" stroke="#922e2c" stroke-width="1.0" />
<rect x="177.05" y="306.60" width="13.00" height="12.40" fill="#b5d6f1" />
<line x1="177.05" y1="319.00" x2="190.05" y2="319.00" stroke="#223a52" stroke-width="1.0" />
<line x1="165.65" y1="272.20" x2="183.55" y2="278.50" stroke="#111" stroke-width="1.1" />
<line x1="165.65" y1="304.10" x2="183.55" y2="306.60" stroke="#111" stroke-width="1.1" />
<line x1="165.65" y1="308.60" x2="183.55" y2="319.50" stroke="#111" stroke-width="1.1" />
<line x1="165.65" y1="325.30" x2="183.55" y2="319.50" stroke="#c8102e" stroke-width="1.1" />
<circle cx="165.65" cy="272.20" r="1.3" fill="#111"/>
<circle cx="183.55" cy="278.50" r="1.3" fill="#111"/>
<circle cx="165.65" cy="304.10" r="1.3" fill="#111"/>
<circle cx="183.55" cy="306.60" r="1.3" fill="#111"/>
<circle cx="165.65" cy="308.60" r="1.3" fill="#111"/>
<circle cx="183.55" cy="319.50" r="1.3" fill="#111"/>
<circle cx="165.65" cy="325.30" r="1.3" fill="#c8102e"/>
<circle cx="183.55" cy="319.50" r="1.3" fill="#c8102e"/>
<rect x="197.00" y="240.90" width="38.50" height="13.20" fill="#fff" stroke="#333" stroke-width="0.9"/>
<text x="216.25" y="249.70" font-size="6.9" text-anchor="middle" fill="#333" >SD&#8722;HI</text>
<line x1="196.50" y1="328.40" x2="236.00" y2="328.40" stroke="#2a2a2a" stroke-width="1.0" />
<line x1="207.15" y1="328.40" x2="207.15" y2="331.00" stroke="#2a2a2a" stroke-width="0.8" />
<line x1="225.05" y1="328.40" x2="225.05" y2="331.00" stroke="#2a2a2a" stroke-width="0.8" />
<text x="207.15" y="341.60" font-size="6.6" text-anchor="middle" fill="#333" >pre</text>
<text x="225.05" y="341.60" font-size="6.6" text-anchor="middle" fill="#333" >post</text>
<line x1="207.15" y1="303.70" x2="207.15" y2="315.70" stroke="#1a1a1a" stroke-width="1.0" />
<rect x="200.65" y="315.70" width="13.00" height="9.10" fill="#e8897c" />
<line x1="200.65" y1="320.70" x2="213.65" y2="320.70" stroke="#922e2c" stroke-width="1.0" />
<rect x="218.55" y="318.20" width="13.00" height="2.50" fill="#b5d6f1" />
<line x1="218.55" y1="319.90" x2="231.55" y2="319.90" stroke="#223a52" stroke-width="1.0" />
<line x1="207.15" y1="303.70" x2="225.05" y2="311.30" stroke="#111" stroke-width="1.1" />
<line x1="207.15" y1="315.20" x2="225.05" y2="324.80" stroke="#111" stroke-width="1.1" />
<line x1="207.15" y1="316.30" x2="225.05" y2="319.60" stroke="#111" stroke-width="1.1" />
<line x1="207.15" y1="325.30" x2="225.05" y2="319.00" stroke="#c8102e" stroke-width="1.1" />
<line x1="207.15" y1="324.50" x2="225.05" y2="318.20" stroke="#c8102e" stroke-width="1.1" />
<circle cx="207.15" cy="303.70" r="1.3" fill="#111"/>
<circle cx="225.05" cy="311.30" r="1.3" fill="#111"/>
<circle cx="207.15" cy="315.20" r="1.3" fill="#111"/>
<circle cx="225.05" cy="324.80" r="1.3" fill="#111"/>
<circle cx="207.15" cy="316.30" r="1.3" fill="#111"/>
<circle cx="225.05" cy="319.60" r="1.3" fill="#111"/>
<circle cx="207.15" cy="325.30" r="1.3" fill="#c8102e"/>
<circle cx="225.05" cy="319.00" r="1.3" fill="#c8102e"/>
<circle cx="207.15" cy="324.50" r="1.3" fill="#c8102e"/>
<circle cx="225.05" cy="318.20" r="1.3" fill="#c8102e"/>
<rect x="239.25" y="240.90" width="38.50" height="13.20" fill="#fff" stroke="#333" stroke-width="0.9"/>
<text x="258.50" y="249.70" font-size="6.9" text-anchor="middle" fill="#333" >PD</text>
<line x1="238.75" y1="328.40" x2="278.25" y2="328.40" stroke="#2a2a2a" stroke-width="1.0" />
<line x1="249.40" y1="328.40" x2="249.40" y2="331.00" stroke="#2a2a2a" stroke-width="0.8" />
<line x1="267.30" y1="328.40" x2="267.30" y2="331.00" stroke="#2a2a2a" stroke-width="0.8" />
<text x="249.40" y="341.60" font-size="6.6" text-anchor="middle" fill="#333" >pre</text>
<text x="267.30" y="341.60" font-size="6.6" text-anchor="middle" fill="#333" >post</text>
<line x1="267.30" y1="269.50" x2="267.30" y2="298.20" stroke="#1a1a1a" stroke-width="1.0" />
<line x1="267.30" y1="319.50" x2="267.30" y2="325.00" stroke="#1a1a1a" stroke-width="1.0" />
<rect x="242.90" y="306.00" width="13.00" height="11.60" fill="#e8897c" />
<line x1="242.90" y1="317.30" x2="255.90" y2="317.30" stroke="#922e2c" stroke-width="1.0" />
<rect x="260.80" y="298.20" width="13.00" height="21.30" fill="#b5d6f1" />
<line x1="260.80" y1="313.40" x2="273.80" y2="313.40" stroke="#223a52" stroke-width="1.0" />
<line x1="249.40" y1="278.50" x2="267.30" y2="307.50" stroke="#111" stroke-width="1.1" />
<line x1="249.40" y1="318.80" x2="267.30" y2="269.50" stroke="#c8102e" stroke-width="1.1" />
<line x1="249.40" y1="314.70" x2="267.30" y2="325.00" stroke="#111" stroke-width="1.1" />
<line x1="249.40" y1="316.50" x2="267.30" y2="318.60" stroke="#111" stroke-width="1.1" />
<circle cx="249.40" cy="278.50" r="1.3" fill="#111"/>
<circle cx="267.30" cy="307.50" r="1.3" fill="#111"/>
<circle cx="249.40" cy="318.80" r="1.3" fill="#c8102e"/>
<circle cx="267.30" cy="269.50" r="1.3" fill="#c8102e"/>
<circle cx="249.40" cy="314.70" r="1.3" fill="#111"/>
<circle cx="267.30" cy="325.00" r="1.3" fill="#111"/>
<circle cx="249.40" cy="316.50" r="1.3" fill="#111"/>
<circle cx="267.30" cy="318.60" r="1.3" fill="#111"/>
<line x1="70.30" y1="254.50" x2="70.30" y2="328.90" stroke="#2a2a2a" stroke-width="1.0" />
<line x1="67.60" y1="325.00" x2="70.30" y2="325.00" stroke="#2a2a2a" stroke-width="0.9" />
<text x="64.60" y="327.40" font-size="6.8" text-anchor="end" fill="#333" >0.00</text>
<line x1="67.60" y1="308.10" x2="70.30" y2="308.10" stroke="#2a2a2a" stroke-width="0.9" />
<text x="64.60" y="310.50" font-size="6.8" text-anchor="end" fill="#333" >0.25</text>
<line x1="67.60" y1="291.20" x2="70.30" y2="291.20" stroke="#2a2a2a" stroke-width="0.9" />
<text x="64.60" y="293.60" font-size="6.8" text-anchor="end" fill="#333" >0.50</text>
<line x1="67.60" y1="274.30" x2="70.30" y2="274.30" stroke="#2a2a2a" stroke-width="0.9" />
<text x="64.60" y="276.70" font-size="6.8" text-anchor="end" fill="#333" >0.75</text>
<line x1="67.60" y1="257.40" x2="70.30" y2="257.40" stroke="#2a2a2a" stroke-width="0.9" />
<text x="64.60" y="259.80" font-size="6.8" text-anchor="end" fill="#333" >1.00</text>
<text x="45.40" y="291.10" font-size="7.2" text-anchor="middle" fill="#222" textLength="26.0" lengthAdjust="spacingAndGlyphs" transform="rotate(-90 45.40 291.10)" stroke="#222" stroke-width="0.3">Clone size</text>
<text x="174.20" y="353.00" font-size="8.2" text-anchor="middle" fill="#222" textLength="18.0" lengthAdjust="spacingAndGlyphs" stroke="#222" stroke-width="0.15">Timing</text>
<line x1="281.20" y1="285.80" x2="290.70" y2="285.80" stroke="#c8102e" stroke-width="1.0" />
<circle cx="285.90" cy="285.80" r="1.3" fill="#c8102e"/>
<text x="294.00" y="287.90" font-size="5.8" text-anchor="start" fill="#333" textLength="19.7" lengthAdjust="spacingAndGlyphs" >Non MC</text>
<line x1="281.20" y1="295.50" x2="290.70" y2="295.50" stroke="#111" stroke-width="1.0" />
<circle cx="285.90" cy="295.50" r="1.3" fill="#111"/>
<text x="294.00" y="297.50" font-size="5.8" text-anchor="start" fill="#333" textLength="8.2" lengthAdjust="spacingAndGlyphs" >MC</text>
<text x="70.60" y="392.30" font-size="6.7" text-anchor="start" fill="#333" font-style="italic" textLength="15.5" lengthAdjust="spacingAndGlyphs" >TP53</text>
<text x="112.90" y="392.50" font-size="6.7" text-anchor="start" fill="#333" textLength="158.1" lengthAdjust="spacingAndGlyphs" ><tspan font-style="italic">P</tspan> &lt; .0001 (post-treatment size and response, trend test)</text>
<rect x="71.25" y="397.80" width="38.25" height="13.20" fill="#fff" stroke="#333" stroke-width="0.9"/>
<text x="90.38" y="406.60" font-size="6.9" text-anchor="middle" fill="#333" >CR</text>
<line x1="70.75" y1="484.90" x2="110.00" y2="484.90" stroke="#2a2a2a" stroke-width="1.0" />
<line x1="81.40" y1="484.90" x2="81.40" y2="487.50" stroke="#2a2a2a" stroke-width="0.8" />
<line x1="99.30" y1="484.90" x2="99.30" y2="487.50" stroke="#2a2a2a" stroke-width="0.8" />
<text x="81.40" y="498.10" font-size="6.6" text-anchor="middle" fill="#333" >pre</text>
<text x="99.30" y="498.10" font-size="6.6" text-anchor="middle" fill="#333" >post</text>
<line x1="81.40" y1="414.20" x2="81.40" y2="472.00" stroke="#1a1a1a" stroke-width="1.0" />
<rect x="74.90" y="423.80" width="13.00" height="36.20" fill="#e8897c" />
<line x1="74.90" y1="435.80" x2="87.90" y2="435.80" stroke="#922e2c" stroke-width="1.0" />
<rect x="92.80" y="475.00" width="13.00" height="6.40" fill="#b5d6f1" />
<line x1="92.80" y1="480.50" x2="105.80" y2="480.50" stroke="#223a52" stroke-width="1.0" />
<line x1="81.40" y1="414.20" x2="99.30" y2="422.26" stroke="#111" stroke-width="1.1" />
<line x1="81.40" y1="416.22" x2="99.30" y2="476.23" stroke="#111" stroke-width="1.1" />
<line x1="81.40" y1="417.56" x2="99.30" y2="448.47" stroke="#111" stroke-width="1.1" />
<line x1="81.40" y1="419.58" x2="99.30" y2="475.01" stroke="#111" stroke-width="1.1" />
<line x1="81.40" y1="420.92" x2="99.30" y2="470.84" stroke="#111" stroke-width="1.1" />
<line x1="81.40" y1="422.26" x2="99.30" y2="476.08" stroke="#111" stroke-width="1.1" />
<line x1="81.40" y1="423.61" x2="99.30" y2="475.60" stroke="#111" stroke-width="1.1" />
<line x1="81.40" y1="424.95" x2="99.30" y2="474.69" stroke="#111" stroke-width="1.1" />
<line x1="81.40" y1="426.30" x2="99.30" y2="479.29" stroke="#111" stroke-width="1.1" />
<line x1="81.40" y1="427.64" x2="99.30" y2="475.55" stroke="#111" stroke-width="1.1" />
<line x1="81.40" y1="428.98" x2="99.30" y2="474.20" stroke="#111" stroke-width="1.1" />
<line x1="81.40" y1="430.33" x2="99.30" y2="472.34" stroke="#111" stroke-width="1.1" />
<line x1="81.40" y1="432.34" x2="99.30" y2="480.32" stroke="#111" stroke-width="1.1" />
<line x1="81.40" y1="434.36" x2="99.30" y2="477.93" stroke="#111" stroke-width="1.1" />
<line x1="81.40" y1="435.70" x2="99.30" y2="480.36" stroke="#111" stroke-width="1.1" />
<line x1="81.40" y1="437.05" x2="99.30" y2="472.15" stroke="#111" stroke-width="1.1" />
<line x1="81.40" y1="439.06" x2="99.30" y2="473.48" stroke="#111" stroke-width="1.1" />
<line x1="81.40" y1="441.08" x2="99.30" y2="480.92" stroke="#111" stroke-width="1.1" />
<line x1="81.40" y1="451.16" x2="99.30" y2="470.18" stroke="#111" stroke-width="1.1" />
<line x1="81.40" y1="453.18" x2="99.30" y2="470.38" stroke="#111" stroke-width="1.1" />
<line x1="81.40" y1="461.24" x2="99.30" y2="473.93" stroke="#111" stroke-width="1.1" />
<line x1="81.40" y1="463.93" x2="99.30" y2="474.37" stroke="#111" stroke-width="1.1" />
<line x1="81.40" y1="465.94" x2="99.30" y2="479.60" stroke="#111" stroke-width="1.1" />
<line x1="81.40" y1="467.96" x2="99.30" y2="481.23" stroke="#111" stroke-width="1.1" />
<line x1="81.40" y1="469.30" x2="99.30" y2="475.36" stroke="#111" stroke-width="1.1" />
<line x1="81.40" y1="470.65" x2="99.30" y2="480.72" stroke="#111" stroke-width="1.1" />
<line x1="81.40" y1="447.80" x2="99.30" y2="480.76" stroke="#c8102e" stroke-width="1.1" />
<line x1="81.40" y1="449.14" x2="99.30" y2="480.59" stroke="#c8102e" stroke-width="1.1" />
<line x1="81.40" y1="457.88" x2="99.30" y2="481.30" stroke="#c8102e" stroke-width="1.1" />
<line x1="81.40" y1="459.90" x2="99.30" y2="479.84" stroke="#c8102e" stroke-width="1.1" />
<line x1="81.40" y1="462.58" x2="99.30" y2="479.92" stroke="#c8102e" stroke-width="1.1" />
<circle cx="81.40" cy="414.20" r="1.3" fill="#111"/>
<circle cx="99.30" cy="422.26" r="1.3" fill="#111"/>
<circle cx="81.40" cy="416.22" r="1.3" fill="#111"/>
<circle cx="99.30" cy="476.23" r="1.3" fill="#111"/>
<circle cx="81.40" cy="417.56" r="1.3" fill="#111"/>
<circle cx="99.30" cy="448.47" r="1.3" fill="#111"/>
<circle cx="81.40" cy="419.58" r="1.3" fill="#111"/>
<circle cx="99.30" cy="475.01" r="1.3" fill="#111"/>
<circle cx="81.40" cy="420.92" r="1.3" fill="#111"/>
<circle cx="99.30" cy="470.84" r="1.3" fill="#111"/>
<circle cx="81.40" cy="422.26" r="1.3" fill="#111"/>
<circle cx="99.30" cy="476.08" r="1.3" fill="#111"/>
<circle cx="81.40" cy="423.61" r="1.3" fill="#111"/>
<circle cx="99.30" cy="475.60" r="1.3" fill="#111"/>
<circle cx="81.40" cy="424.95" r="1.3" fill="#111"/>
<circle cx="99.30" cy="474.69" r="1.3" fill="#111"/>
<circle cx="81.40" cy="426.30" r="1.3" fill="#111"/>
<circle cx="99.30" cy="479.29" r="1.3" fill="#111"/>
<circle cx="81.40" cy="427.64" r="1.3" fill="#111"/>
<circle cx="99.30" cy="475.55" r="1.3" fill="#111"/>
<circle cx="81.40" cy="428.98" r="1.3" fill="#111"/>
<circle cx="99.30" cy="474.20" r="1.3" fill="#111"/>
<circle cx="81.40" cy="430.33" r="1.3" fill="#111"/>
<circle cx="99.30" cy="472.34" r="1.3" fill="#111"/>
<circle cx="81.40" cy="432.34" r="1.3" fill="#111"/>
<circle cx="99.30" cy="480.32" r="1.3" fill="#111"/>
<circle cx="81.40" cy="434.36" r="1.3" fill="#111"/>
<circle cx="99.30" cy="477.93" r="1.3" fill="#111"/>
<circle cx="81.40" cy="435.70" r="1.3" fill="#111"/>
<circle cx="99.30" cy="480.36" r="1.3" fill="#111"/>
<circle cx="81.40" cy="437.05" r="1.3" fill="#111"/>
<circle cx="99.30" cy="472.15" r="1.3" fill="#111"/>
<circle cx="81.40" cy="439.06" r="1.3" fill="#111"/>
<circle cx="99.30" cy="473.48" r="1.3" fill="#111"/>
<circle cx="81.40" cy="441.08" r="1.3" fill="#111"/>
<circle cx="99.30" cy="480.92" r="1.3" fill="#111"/>
<circle cx="81.40" cy="451.16" r="1.3" fill="#111"/>
<circle cx="99.30" cy="470.18" r="1.3" fill="#111"/>
<circle cx="81.40" cy="453.18" r="1.3" fill="#111"/>
<circle cx="99.30" cy="470.38" r="1.3" fill="#111"/>
<circle cx="81.40" cy="461.24" r="1.3" fill="#111"/>
<circle cx="99.30" cy="473.93" r="1.3" fill="#111"/>
<circle cx="81.40" cy="463.93" r="1.3" fill="#111"/>
<circle cx="99.30" cy="474.37" r="1.3" fill="#111"/>
<circle cx="81.40" cy="465.94" r="1.3" fill="#111"/>
<circle cx="99.30" cy="479.60" r="1.3" fill="#111"/>
<circle cx="81.40" cy="467.96" r="1.3" fill="#111"/>
<circle cx="99.30" cy="481.23" r="1.3" fill="#111"/>
<circle cx="81.40" cy="469.30" r="1.3" fill="#111"/>
<circle cx="99.30" cy="475.36" r="1.3" fill="#111"/>
<circle cx="81.40" cy="470.65" r="1.3" fill="#111"/>
<circle cx="99.30" cy="480.72" r="1.3" fill="#111"/>
<circle cx="81.40" cy="447.80" r="1.3" fill="#c8102e"/>
<circle cx="99.30" cy="480.76" r="1.3" fill="#c8102e"/>
<circle cx="81.40" cy="449.14" r="1.3" fill="#c8102e"/>
<circle cx="99.30" cy="480.59" r="1.3" fill="#c8102e"/>
<circle cx="81.40" cy="457.88" r="1.3" fill="#c8102e"/>
<circle cx="99.30" cy="481.30" r="1.3" fill="#c8102e"/>
<circle cx="81.40" cy="459.90" r="1.3" fill="#c8102e"/>
<circle cx="99.30" cy="479.84" r="1.3" fill="#c8102e"/>
<circle cx="81.40" cy="462.58" r="1.3" fill="#c8102e"/>
<circle cx="99.30" cy="479.92" r="1.3" fill="#c8102e"/>
<rect x="113.00" y="397.80" width="38.25" height="13.20" fill="#fff" stroke="#333" stroke-width="0.9"/>
<text x="132.12" y="406.60" font-size="6.9" text-anchor="middle" fill="#333" ><tspan font-style="italic">m</tspan>CR/PR</text>
<line x1="112.50" y1="484.90" x2="151.75" y2="484.90" stroke="#2a2a2a" stroke-width="1.0" />
<line x1="123.15" y1="484.90" x2="123.15" y2="487.50" stroke="#2a2a2a" stroke-width="0.8" />
<line x1="141.05" y1="484.90" x2="141.05" y2="487.50" stroke="#2a2a2a" stroke-width="0.8" />
<text x="123.15" y="498.10" font-size="6.6" text-anchor="middle" fill="#333" >pre</text>
<text x="141.05" y="498.10" font-size="6.6" text-anchor="middle" fill="#333" >post</text>
<line x1="123.15" y1="414.20" x2="123.15" y2="427.50" stroke="#1a1a1a" stroke-width="1.0" />
<rect x="116.65" y="427.50" width="13.00" height="39.50" fill="#e8897c" />
<line x1="116.65" y1="437.50" x2="129.65" y2="437.50" stroke="#922e2c" stroke-width="1.0" />
<rect x="134.55" y="472.00" width="13.00" height="9.40" fill="#b5d6f1" />
<line x1="134.55" y1="480.80" x2="147.55" y2="480.80" stroke="#223a52" stroke-width="1.0" />
<line x1="123.15" y1="414.20" x2="141.05" y2="414.20" stroke="#111" stroke-width="1.1" />
<line x1="123.15" y1="424.28" x2="141.05" y2="443.10" stroke="#111" stroke-width="1.1" />
<line x1="123.15" y1="427.64" x2="141.05" y2="444.44" stroke="#111" stroke-width="1.1" />
<line x1="123.15" y1="434.36" x2="141.05" y2="443.77" stroke="#111" stroke-width="1.1" />
<line x1="123.15" y1="425.62" x2="141.05" y2="471.32" stroke="#111" stroke-width="1.1" />
<line x1="123.15" y1="428.98" x2="141.05" y2="473.34" stroke="#111" stroke-width="1.1" />
<line x1="123.15" y1="431.00" x2="141.05" y2="478.04" stroke="#111" stroke-width="1.1" />
<line x1="123.15" y1="432.34" x2="141.05" y2="479.38" stroke="#111" stroke-width="1.1" />
<line x1="123.15" y1="437.05" x2="141.05" y2="476.02" stroke="#111" stroke-width="1.1" />
<line x1="123.15" y1="439.06" x2="141.05" y2="480.06" stroke="#111" stroke-width="1.1" />
<line x1="123.15" y1="465.27" x2="141.05" y2="481.40" stroke="#111" stroke-width="1.1" />
<line x1="123.15" y1="466.62" x2="141.05" y2="478.71" stroke="#111" stroke-width="1.1" />
<line x1="123.15" y1="472.66" x2="141.05" y2="478.04" stroke="#c8102e" stroke-width="1.1" />
<line x1="123.15" y1="474.68" x2="141.05" y2="480.06" stroke="#c8102e" stroke-width="1.1" />
<line x1="123.15" y1="476.70" x2="141.05" y2="476.02" stroke="#c8102e" stroke-width="1.1" />
<line x1="123.15" y1="478.71" x2="141.05" y2="481.40" stroke="#c8102e" stroke-width="1.1" />
<line x1="123.15" y1="481.40" x2="141.05" y2="479.38" stroke="#c8102e" stroke-width="1.1" />
<line x1="123.15" y1="480.06" x2="141.05" y2="477.37" stroke="#c8102e" stroke-width="1.1" />
<circle cx="123.15" cy="414.20" r="1.3" fill="#111"/>
<circle cx="141.05" cy="414.20" r="1.3" fill="#111"/>
<circle cx="123.15" cy="424.28" r="1.3" fill="#111"/>
<circle cx="141.05" cy="443.10" r="1.3" fill="#111"/>
<circle cx="123.15" cy="427.64" r="1.3" fill="#111"/>
<circle cx="141.05" cy="444.44" r="1.3" fill="#111"/>
<circle cx="123.15" cy="434.36" r="1.3" fill="#111"/>
<circle cx="141.05" cy="443.77" r="1.3" fill="#111"/>
<circle cx="123.15" cy="425.62" r="1.3" fill="#111"/>
<circle cx="141.05" cy="471.32" r="1.3" fill="#111"/>
<circle cx="123.15" cy="428.98" r="1.3" fill="#111"/>
<circle cx="141.05" cy="473.34" r="1.3" fill="#111"/>
<circle cx="123.15" cy="431.00" r="1.3" fill="#111"/>
<circle cx="141.05" cy="478.04" r="1.3" fill="#111"/>
<circle cx="123.15" cy="432.34" r="1.3" fill="#111"/>
<circle cx="141.05" cy="479.38" r="1.3" fill="#111"/>
<circle cx="123.15" cy="437.05" r="1.3" fill="#111"/>
<circle cx="141.05" cy="476.02" r="1.3" fill="#111"/>
<circle cx="123.15" cy="439.06" r="1.3" fill="#111"/>
<circle cx="141.05" cy="480.06" r="1.3" fill="#111"/>
<circle cx="123.15" cy="465.27" r="1.3" fill="#111"/>
<circle cx="141.05" cy="481.40" r="1.3" fill="#111"/>
<circle cx="123.15" cy="466.62" r="1.3" fill="#111"/>
<circle cx="141.05" cy="478.71" r="1.3" fill="#111"/>
<circle cx="123.15" cy="472.66" r="1.3" fill="#c8102e"/>
<circle cx="141.05" cy="478.04" r="1.3" fill="#c8102e"/>
<circle cx="123.15" cy="474.68" r="1.3" fill="#c8102e"/>
<circle cx="141.05" cy="480.06" r="1.3" fill="#c8102e"/>
<circle cx="123.15" cy="476.70" r="1.3" fill="#c8102e"/>
<circle cx="141.05" cy="476.02" r="1.3" fill="#c8102e"/>
<circle cx="123.15" cy="478.71" r="1.3" fill="#c8102e"/>
<circle cx="141.05" cy="481.40" r="1.3" fill="#c8102e"/>
<circle cx="123.15" cy="481.40" r="1.3" fill="#c8102e"/>
<circle cx="141.05" cy="479.38" r="1.3" fill="#c8102e"/>
<circle cx="123.15" cy="480.06" r="1.3" fill="#c8102e"/>
<circle cx="141.05" cy="477.37" r="1.3" fill="#c8102e"/>
<rect x="155.50" y="397.80" width="38.00" height="13.20" fill="#fff" stroke="#333" stroke-width="0.9"/>
<text x="174.50" y="406.60" font-size="6.9" text-anchor="middle" fill="#333" >SD+HI</text>
<line x1="155.00" y1="484.90" x2="194.00" y2="484.90" stroke="#2a2a2a" stroke-width="1.0" />
<line x1="165.65" y1="484.90" x2="165.65" y2="487.50" stroke="#2a2a2a" stroke-width="0.8" />
<line x1="183.55" y1="484.90" x2="183.55" y2="487.50" stroke="#2a2a2a" stroke-width="0.8" />
<text x="165.65" y="498.10" font-size="6.6" text-anchor="middle" fill="#333" >pre</text>
<text x="183.55" y="498.10" font-size="6.6" text-anchor="middle" fill="#333" >post</text>
<line x1="165.65" y1="414.00" x2="165.65" y2="482.40" stroke="#1a1a1a" stroke-width="1.0" />
<line x1="183.55" y1="414.00" x2="183.55" y2="444.40" stroke="#1a1a1a" stroke-width="1.0" />
<line x1="183.55" y1="468.70" x2="183.55" y2="476.30" stroke="#1a1a1a" stroke-width="1.0" />
<rect x="159.15" y="438.00" width="13.00" height="26.40" fill="#e8897c" />
<line x1="159.15" y1="458.50" x2="172.15" y2="458.50" stroke="#922e2c" stroke-width="1.0" />
<rect x="177.05" y="444.40" width="13.00" height="24.30" fill="#b5d6f1" />
<line x1="177.05" y1="449.70" x2="190.05" y2="449.70" stroke="#223a52" stroke-width="1.0" />
<line x1="165.65" y1="414.00" x2="183.55" y2="414.00" stroke="#111" stroke-width="1.1" />
<line x1="165.65" y1="432.00" x2="183.55" y2="469.50" stroke="#c8102e" stroke-width="1.1" />
<line x1="165.65" y1="443.70" x2="183.55" y2="442.60" stroke="#111" stroke-width="1.1" />
<line x1="165.65" y1="458.80" x2="183.55" y2="446.00" stroke="#111" stroke-width="1.1" />
<line x1="165.65" y1="461.40" x2="183.55" y2="449.30" stroke="#111" stroke-width="1.1" />
<line x1="165.65" y1="466.40" x2="183.55" y2="449.30" stroke="#111" stroke-width="1.1" />
<line x1="165.65" y1="458.80" x2="183.55" y2="469.50" stroke="#111" stroke-width="1.1" />
<line x1="165.65" y1="482.40" x2="183.55" y2="476.30" stroke="#c8102e" stroke-width="1.1" />
<circle cx="165.65" cy="414.00" r="1.3" fill="#111"/>
<circle cx="183.55" cy="414.00" r="1.3" fill="#111"/>
<circle cx="165.65" cy="432.00" r="1.3" fill="#c8102e"/>
<circle cx="183.55" cy="469.50" r="1.3" fill="#c8102e"/>
<circle cx="165.65" cy="443.70" r="1.3" fill="#111"/>
<circle cx="183.55" cy="442.60" r="1.3" fill="#111"/>
<circle cx="165.65" cy="458.80" r="1.3" fill="#111"/>
<circle cx="183.55" cy="446.00" r="1.3" fill="#111"/>
<circle cx="165.65" cy="461.40" r="1.3" fill="#111"/>
<circle cx="183.55" cy="449.30" r="1.3" fill="#111"/>
<circle cx="165.65" cy="466.40" r="1.3" fill="#111"/>
<circle cx="183.55" cy="449.30" r="1.3" fill="#111"/>
<circle cx="165.65" cy="458.80" r="1.3" fill="#111"/>
<circle cx="183.55" cy="469.50" r="1.3" fill="#111"/>
<circle cx="165.65" cy="482.40" r="1.3" fill="#c8102e"/>
<circle cx="183.55" cy="476.30" r="1.3" fill="#c8102e"/>
<rect x="197.00" y="397.80" width="38.50" height="13.20" fill="#fff" stroke="#333" stroke-width="0.9"/>
<text x="216.25" y="406.60" font-size="6.9" text-anchor="middle" fill="#333" >SD&#8722;HI</text>
<line x1="196.50" y1="484.90" x2="236.00" y2="484.90" stroke="#2a2a2a" stroke-width="1.0" />
<line x1="207.15" y1="484.90" x2="207.15" y2="487.50" stroke="#2a2a2a" stroke-width="0.8" />
<line x1="225.05" y1="484.90" x2="225.05" y2="487.50" stroke="#2a2a2a" stroke-width="0.8" />
<text x="207.15" y="498.10" font-size="6.6" text-anchor="middle" fill="#333" >pre</text>
<text x="225.05" y="498.10" font-size="6.6" text-anchor="middle" fill="#333" >post</text>
<line x1="207.15" y1="414.00" x2="207.15" y2="435.60" stroke="#1a1a1a" stroke-width="1.0" />
<line x1="225.05" y1="414.00" x2="225.05" y2="441.10" stroke="#1a1a1a" stroke-width="1.0" />
<rect x="200.65" y="435.60" width="13.00" height="42.20" fill="#e8897c" />
<line x1="200.65" y1="471.40" x2="213.65" y2="471.40" stroke="#922e2c" stroke-width="1.0" />
<rect x="218.55" y="441.10" width="13.00" height="34.40" fill="#b5d6f1" />
<line x1="218.55" y1="466.90" x2="231.55" y2="466.90" stroke="#223a52" stroke-width="1.0" />
<line x1="207.15" y1="414.00" x2="225.05" y2="414.00" stroke="#111" stroke-width="1.1" />
<line x1="207.15" y1="420.90" x2="225.05" y2="424.70" stroke="#111" stroke-width="1.1" />
<line x1="207.15" y1="423.90" x2="225.05" y2="458.10" stroke="#111" stroke-width="1.1" />
<line x1="207.15" y1="447.10" x2="225.05" y2="419.40" stroke="#c8102e" stroke-width="1.1" />
<line x1="207.15" y1="465.70" x2="225.05" y2="458.80" stroke="#111" stroke-width="1.1" />
<line x1="207.15" y1="466.20" x2="225.05" y2="459.20" stroke="#111" stroke-width="1.1" />
<line x1="207.15" y1="466.80" x2="225.05" y2="462.60" stroke="#111" stroke-width="1.1" />
<line x1="207.15" y1="472.50" x2="225.05" y2="471.70" stroke="#c8102e" stroke-width="1.1" />
<line x1="207.15" y1="474.80" x2="225.05" y2="468.00" stroke="#c8102e" stroke-width="1.1" />
<line x1="207.15" y1="477.00" x2="225.05" y2="479.30" stroke="#c8102e" stroke-width="1.1" />
<line x1="207.15" y1="479.30" x2="225.05" y2="474.80" stroke="#c8102e" stroke-width="1.1" />
<line x1="207.15" y1="482.40" x2="225.05" y2="482.40" stroke="#c8102e" stroke-width="1.1" />
<line x1="207.15" y1="474.80" x2="225.05" y2="482.40" stroke="#c8102e" stroke-width="1.1" />
<line x1="207.15" y1="479.30" x2="225.05" y2="471.70" stroke="#c8102e" stroke-width="1.1" />
<line x1="207.15" y1="472.50" x2="225.05" y2="477.00" stroke="#c8102e" stroke-width="1.1" />
<circle cx="207.15" cy="414.00" r="1.3" fill="#111"/>
<circle cx="225.05" cy="414.00" r="1.3" fill="#111"/>
<circle cx="207.15" cy="420.90" r="1.3" fill="#111"/>
<circle cx="225.05" cy="424.70" r="1.3" fill="#111"/>
<circle cx="207.15" cy="423.90" r="1.3" fill="#111"/>
<circle cx="225.05" cy="458.10" r="1.3" fill="#111"/>
<circle cx="207.15" cy="447.10" r="1.3" fill="#c8102e"/>
<circle cx="225.05" cy="419.40" r="1.3" fill="#c8102e"/>
<circle cx="207.15" cy="465.70" r="1.3" fill="#111"/>
<circle cx="225.05" cy="458.80" r="1.3" fill="#111"/>
<circle cx="207.15" cy="466.20" r="1.3" fill="#111"/>
<circle cx="225.05" cy="459.20" r="1.3" fill="#111"/>
<circle cx="207.15" cy="466.80" r="1.3" fill="#111"/>
<circle cx="225.05" cy="462.60" r="1.3" fill="#111"/>
<circle cx="207.15" cy="472.50" r="1.3" fill="#c8102e"/>
<circle cx="225.05" cy="471.70" r="1.3" fill="#c8102e"/>
<circle cx="207.15" cy="474.80" r="1.3" fill="#c8102e"/>
<circle cx="225.05" cy="468.00" r="1.3" fill="#c8102e"/>
<circle cx="207.15" cy="477.00" r="1.3" fill="#c8102e"/>
<circle cx="225.05" cy="479.30" r="1.3" fill="#c8102e"/>
<circle cx="207.15" cy="479.30" r="1.3" fill="#c8102e"/>
<circle cx="225.05" cy="474.80" r="1.3" fill="#c8102e"/>
<circle cx="207.15" cy="482.40" r="1.3" fill="#c8102e"/>
<circle cx="225.05" cy="482.40" r="1.3" fill="#c8102e"/>
<circle cx="207.15" cy="474.80" r="1.3" fill="#c8102e"/>
<circle cx="225.05" cy="482.40" r="1.3" fill="#c8102e"/>
<circle cx="207.15" cy="479.30" r="1.3" fill="#c8102e"/>
<circle cx="225.05" cy="471.70" r="1.3" fill="#c8102e"/>
<circle cx="207.15" cy="472.50" r="1.3" fill="#c8102e"/>
<circle cx="225.05" cy="477.00" r="1.3" fill="#c8102e"/>
<rect x="239.25" y="397.80" width="38.50" height="13.20" fill="#fff" stroke="#333" stroke-width="0.9"/>
<text x="258.50" y="406.60" font-size="6.9" text-anchor="middle" fill="#333" >PD</text>
<line x1="238.75" y1="484.90" x2="278.25" y2="484.90" stroke="#2a2a2a" stroke-width="1.0" />
<line x1="249.40" y1="484.90" x2="249.40" y2="487.50" stroke="#2a2a2a" stroke-width="0.8" />
<line x1="267.30" y1="484.90" x2="267.30" y2="487.50" stroke="#2a2a2a" stroke-width="0.8" />
<text x="249.40" y="498.10" font-size="6.6" text-anchor="middle" fill="#333" >pre</text>
<text x="267.30" y="498.10" font-size="6.6" text-anchor="middle" fill="#333" >post</text>
<line x1="249.40" y1="414.00" x2="249.40" y2="452.80" stroke="#1a1a1a" stroke-width="1.0" />
<line x1="267.30" y1="414.00" x2="267.30" y2="458.00" stroke="#1a1a1a" stroke-width="1.0" />
<rect x="242.90" y="426.20" width="13.00" height="14.40" fill="#e8897c" />
<line x1="242.90" y1="431.50" x2="255.90" y2="431.50" stroke="#922e2c" stroke-width="1.0" />
<rect x="260.80" y="420.40" width="13.00" height="17.20" fill="#b5d6f1" />
<line x1="260.80" y1="427.40" x2="273.80" y2="427.40" stroke="#223a52" stroke-width="1.0" />
<line x1="249.40" y1="414.00" x2="267.30" y2="414.00" stroke="#111" stroke-width="1.1" />
<line x1="249.40" y1="418.60" x2="267.30" y2="427.00" stroke="#111" stroke-width="1.1" />
<line x1="249.40" y1="421.00" x2="267.30" y2="449.00" stroke="#111" stroke-width="1.1" />
<line x1="249.40" y1="423.50" x2="267.30" y2="418.60" stroke="#111" stroke-width="1.1" />
<line x1="249.40" y1="426.00" x2="267.30" y2="434.50" stroke="#111" stroke-width="1.1" />
<line x1="249.40" y1="428.00" x2="267.30" y2="458.00" stroke="#111" stroke-width="1.1" />
<line x1="249.40" y1="430.00" x2="267.30" y2="424.00" stroke="#111" stroke-width="1.1" />
<line x1="249.40" y1="431.50" x2="267.30" y2="444.50" stroke="#111" stroke-width="1.1" />
<line x1="249.40" y1="433.00" x2="267.30" y2="416.40" stroke="#111" stroke-width="1.1" />
<line x1="249.40" y1="435.00" x2="267.30" y2="431.00" stroke="#111" stroke-width="1.1" />
<line x1="249.40" y1="436.50" x2="267.30" y2="453.50" stroke="#111" stroke-width="1.1" />
<line x1="249.40" y1="438.50" x2="267.30" y2="421.70" stroke="#111" stroke-width="1.1" />
<line x1="249.40" y1="444.00" x2="267.30" y2="439.00" stroke="#111" stroke-width="1.1" />
<line x1="249.40" y1="452.80" x2="267.30" y2="414.00" stroke="#111" stroke-width="1.1" />
<line x1="249.40" y1="428.00" x2="267.30" y2="417.00" stroke="#c8102e" stroke-width="1.1" />
<line x1="249.40" y1="432.00" x2="267.30" y2="419.00" stroke="#c8102e" stroke-width="1.1" />
<line x1="249.40" y1="471.70" x2="267.30" y2="419.00" stroke="#c8102e" stroke-width="1.1" />
<line x1="249.40" y1="473.90" x2="267.30" y2="422.00" stroke="#c8102e" stroke-width="1.1" />
<line x1="249.40" y1="471.70" x2="267.30" y2="478.60" stroke="#c8102e" stroke-width="1.1" />
<line x1="249.40" y1="476.00" x2="267.30" y2="482.40" stroke="#c8102e" stroke-width="1.1" />
<line x1="249.40" y1="482.40" x2="267.30" y2="478.60" stroke="#c8102e" stroke-width="1.1" />
<line x1="249.40" y1="473.90" x2="267.30" y2="482.40" stroke="#c8102e" stroke-width="1.1" />
<circle cx="249.40" cy="414.00" r="1.3" fill="#111"/>
<circle cx="267.30" cy="414.00" r="1.3" fill="#111"/>
<circle cx="249.40" cy="418.60" r="1.3" fill="#111"/>
<circle cx="267.30" cy="427.00" r="1.3" fill="#111"/>
<circle cx="249.40" cy="421.00" r="1.3" fill="#111"/>
<circle cx="267.30" cy="449.00" r="1.3" fill="#111"/>
<circle cx="249.40" cy="423.50" r="1.3" fill="#111"/>
<circle cx="267.30" cy="418.60" r="1.3" fill="#111"/>
<circle cx="249.40" cy="426.00" r="1.3" fill="#111"/>
<circle cx="267.30" cy="434.50" r="1.3" fill="#111"/>
<circle cx="249.40" cy="428.00" r="1.3" fill="#111"/>
<circle cx="267.30" cy="458.00" r="1.3" fill="#111"/>
<circle cx="249.40" cy="430.00" r="1.3" fill="#111"/>
<circle cx="267.30" cy="424.00" r="1.3" fill="#111"/>
<circle cx="249.40" cy="431.50" r="1.3" fill="#111"/>
<circle cx="267.30" cy="444.50" r="1.3" fill="#111"/>
<circle cx="249.40" cy="433.00" r="1.3" fill="#111"/>
<circle cx="267.30" cy="416.40" r="1.3" fill="#111"/>
<circle cx="249.40" cy="435.00" r="1.3" fill="#111"/>
<circle cx="267.30" cy="431.00" r="1.3" fill="#111"/>
<circle cx="249.40" cy="436.50" r="1.3" fill="#111"/>
<circle cx="267.30" cy="453.50" r="1.3" fill="#111"/>
<circle cx="249.40" cy="438.50" r="1.3" fill="#111"/>
<circle cx="267.30" cy="421.70" r="1.3" fill="#111"/>
<circle cx="249.40" cy="444.00" r="1.3" fill="#111"/>
<circle cx="267.30" cy="439.00" r="1.3" fill="#111"/>
<circle cx="249.40" cy="452.80" r="1.3" fill="#111"/>
<circle cx="267.30" cy="414.00" r="1.3" fill="#111"/>
<circle cx="249.40" cy="428.00" r="1.3" fill="#c8102e"/>
<circle cx="267.30" cy="417.00" r="1.3" fill="#c8102e"/>
<circle cx="249.40" cy="432.00" r="1.3" fill="#c8102e"/>
<circle cx="267.30" cy="419.00" r="1.3" fill="#c8102e"/>
<circle cx="249.40" cy="471.70" r="1.3" fill="#c8102e"/>
<circle cx="267.30" cy="419.00" r="1.3" fill="#c8102e"/>
<circle cx="249.40" cy="473.90" r="1.3" fill="#c8102e"/>
<circle cx="267.30" cy="422.00" r="1.3" fill="#c8102e"/>
<circle cx="249.40" cy="471.70" r="1.3" fill="#c8102e"/>
<circle cx="267.30" cy="478.60" r="1.3" fill="#c8102e"/>
<circle cx="249.40" cy="476.00" r="1.3" fill="#c8102e"/>
<circle cx="267.30" cy="482.40" r="1.3" fill="#c8102e"/>
<circle cx="249.40" cy="482.40" r="1.3" fill="#c8102e"/>
<circle cx="267.30" cy="478.60" r="1.3" fill="#c8102e"/>
<circle cx="249.40" cy="473.90" r="1.3" fill="#c8102e"/>
<circle cx="267.30" cy="482.40" r="1.3" fill="#c8102e"/>
<line x1="70.30" y1="411.00" x2="70.30" y2="485.40" stroke="#2a2a2a" stroke-width="1.0" />
<line x1="67.60" y1="481.40" x2="70.30" y2="481.40" stroke="#2a2a2a" stroke-width="0.9" />
<text x="64.60" y="483.80" font-size="6.8" text-anchor="end" fill="#333" >0.00</text>
<line x1="67.60" y1="464.60" x2="70.30" y2="464.60" stroke="#2a2a2a" stroke-width="0.9" />
<text x="64.60" y="467.00" font-size="6.8" text-anchor="end" fill="#333" >0.25</text>
<line x1="67.60" y1="447.80" x2="70.30" y2="447.80" stroke="#2a2a2a" stroke-width="0.9" />
<text x="64.60" y="450.20" font-size="6.8" text-anchor="end" fill="#333" >0.50</text>
<line x1="67.60" y1="431.00" x2="70.30" y2="431.00" stroke="#2a2a2a" stroke-width="0.9" />
<text x="64.60" y="433.40" font-size="6.8" text-anchor="end" fill="#333" >0.75</text>
<line x1="67.60" y1="414.20" x2="70.30" y2="414.20" stroke="#2a2a2a" stroke-width="0.9" />
<text x="64.60" y="416.60" font-size="6.8" text-anchor="end" fill="#333" >1.00</text>
<text x="45.40" y="447.70" font-size="7.2" text-anchor="middle" fill="#222" textLength="26.0" lengthAdjust="spacingAndGlyphs" transform="rotate(-90 45.40 447.70)" stroke="#222" stroke-width="0.3">Clone size</text>
<text x="174.20" y="509.50" font-size="8.2" text-anchor="middle" fill="#222" textLength="18.0" lengthAdjust="spacingAndGlyphs" stroke="#222" stroke-width="0.15">Timing</text>
<line x1="281.20" y1="443.30" x2="290.70" y2="443.30" stroke="#c8102e" stroke-width="1.0" />
<circle cx="285.90" cy="443.30" r="1.3" fill="#c8102e"/>
<text x="294.00" y="445.40" font-size="5.8" text-anchor="start" fill="#333" textLength="19.7" lengthAdjust="spacingAndGlyphs" >Non MC</text>
<line x1="281.20" y1="453.00" x2="290.70" y2="453.00" stroke="#111" stroke-width="1.0" />
<circle cx="285.90" cy="453.00" r="1.3" fill="#111"/>
<text x="294.00" y="455.00" font-size="5.8" text-anchor="start" fill="#333" textLength="8.2" lengthAdjust="spacingAndGlyphs" >MC</text>
<text x="330.00" y="227.00" font-size="11.4" text-anchor="start" fill="#111" font-weight="bold" >E</text>
<text x="361.50" y="236.00" font-size="7.2" text-anchor="start" fill="#333" textLength="116.0" lengthAdjust="spacingAndGlyphs" >OS by post&#8722;treatment <tspan font-style="italic">DDX41</tspan> clone size</text>
<line x1="381.30" y1="247.00" x2="390.00" y2="247.00" stroke="#c02848" stroke-width="1.0" />
<text x="393.20" y="249.00" font-size="6.0" text-anchor="start" fill="#333" textLength="21.8" lengthAdjust="spacingAndGlyphs" >&#8804; median</text>
<line x1="423.80" y1="247.00" x2="432.50" y2="247.00" stroke="#35a9cf" stroke-width="1.0" />
<text x="436.60" y="249.00" font-size="6.0" text-anchor="start" fill="#333" textLength="22.0" lengthAdjust="spacingAndGlyphs" >&gt; median</text>
<line x1="361.90" y1="258.40" x2="361.90" y2="329.10" stroke="#2a2a2a" stroke-width="1.0" />
<line x1="361.90" y1="328.60" x2="477.50" y2="328.60" stroke="#2a2a2a" stroke-width="1.0" />
<line x1="358.60" y1="325.60" x2="361.90" y2="325.60" stroke="#2a2a2a" stroke-width="0.9" />
<text x="356.00" y="328.00" font-size="6.7" text-anchor="end" fill="#333" >0.00</text>
<line x1="358.60" y1="309.38" x2="361.90" y2="309.38" stroke="#2a2a2a" stroke-width="0.9" />
<text x="356.00" y="311.77" font-size="6.7" text-anchor="end" fill="#333" >0.25</text>
<line x1="358.60" y1="293.15" x2="361.90" y2="293.15" stroke="#2a2a2a" stroke-width="0.9" />
<text x="356.00" y="295.55" font-size="6.7" text-anchor="end" fill="#333" >0.50</text>
<line x1="358.60" y1="276.93" x2="361.90" y2="276.93" stroke="#2a2a2a" stroke-width="0.9" />
<text x="356.00" y="279.32" font-size="6.7" text-anchor="end" fill="#333" >0.75</text>
<line x1="358.60" y1="260.70" x2="361.90" y2="260.70" stroke="#2a2a2a" stroke-width="0.9" />
<text x="356.00" y="263.10" font-size="6.7" text-anchor="end" fill="#333" >1.00</text>
<line x1="367.20" y1="328.60" x2="367.20" y2="331.20" stroke="#2a2a2a" stroke-width="0.8" />
<text x="367.20" y="340.60" font-size="6.7" text-anchor="middle" fill="#333" >0</text>
<line x1="402.24" y1="328.60" x2="402.24" y2="331.20" stroke="#2a2a2a" stroke-width="0.8" />
<text x="402.24" y="340.60" font-size="6.7" text-anchor="middle" fill="#333" >2</text>
<line x1="437.28" y1="328.60" x2="437.28" y2="331.20" stroke="#2a2a2a" stroke-width="0.8" />
<text x="437.28" y="340.60" font-size="6.7" text-anchor="middle" fill="#333" >4</text>
<line x1="472.32" y1="328.60" x2="472.32" y2="331.20" stroke="#2a2a2a" stroke-width="0.8" />
<text x="472.32" y="340.60" font-size="6.7" text-anchor="middle" fill="#333" >6</text>
<text x="422.40" y="351.90" font-size="7.7" text-anchor="middle" fill="#222" textLength="88.5" lengthAdjust="spacingAndGlyphs" stroke="#222" stroke-width="0.15">Time from AZA treatment (years)</text>
<text x="336.00" y="293.15" font-size="7.7" text-anchor="middle" fill="#222" textLength="39.5" lengthAdjust="spacingAndGlyphs" transform="rotate(-90 336.00 293.15)" stroke="#222" stroke-width="0.15">Overall survival</text>
<polyline points="367.20,260.70 384.19,260.70 384.19,268.16 398.21,268.16 398.21,279.52 403.29,279.52 403.29,290.55 418.01,290.55 418.01,302.24 421.51,302.24 421.51,313.92 442.54,313.92 442.54,313.92" fill="none" stroke="#c02848" stroke-width="1.0" />
<polyline points="367.20,260.70 387.00,260.70 387.00,268.16 390.68,268.16 390.68,274.98 398.21,274.98 398.21,282.12 418.01,282.12 418.01,296.39 430.27,296.39 430.27,325.60" fill="none" stroke="#35a9cf" stroke-width="1.0" />
<line x1="369.50" y1="260.50" x2="383.50" y2="260.50" stroke="#3d6f8c" stroke-width="1.3" />
<text x="437.30" y="288.80" font-size="6.0" text-anchor="start" fill="#333" textLength="17.5" lengthAdjust="spacingAndGlyphs" ><tspan font-style="italic">P</tspan> = .83</text>
<text x="333.60" y="366.80" font-size="5.4" text-anchor="start" fill="#333" textLength="22.2" lengthAdjust="spacingAndGlyphs" >&#8804; median</text>
<text x="333.60" y="376.00" font-size="5.4" text-anchor="start" fill="#333" textLength="22.2" lengthAdjust="spacingAndGlyphs" >&gt; median</text>
<text x="368.40" y="366.80" font-size="6.0" text-anchor="middle" fill="#333" >13</text>
<text x="402.54" y="366.80" font-size="6.0" text-anchor="middle" fill="#333" >4</text>
<text x="437.58" y="366.80" font-size="6.0" text-anchor="middle" fill="#333" >1</text>
<text x="472.62" y="366.80" font-size="6.0" text-anchor="middle" fill="#333" >0</text>
<text x="368.40" y="376.00" font-size="6.0" text-anchor="middle" fill="#333" >14</text>
<text x="402.54" y="376.00" font-size="6.0" text-anchor="middle" fill="#333" >5</text>
<text x="437.58" y="376.00" font-size="6.0" text-anchor="middle" fill="#333" >0</text>
<text x="472.62" y="376.00" font-size="6.0" text-anchor="middle" fill="#333" >0</text>
<text x="366.30" y="392.50" font-size="7.2" text-anchor="start" fill="#333" textLength="110.7" lengthAdjust="spacingAndGlyphs" >OS by post&#8722;treatment <tspan font-style="italic">TP53</tspan> clone size</text>
<line x1="381.30" y1="404.00" x2="390.00" y2="404.00" stroke="#c02848" stroke-width="1.0" />
<text x="393.20" y="406.00" font-size="6.0" text-anchor="start" fill="#333" textLength="21.8" lengthAdjust="spacingAndGlyphs" >&#8804; median</text>
<line x1="423.80" y1="404.00" x2="432.50" y2="404.00" stroke="#35a9cf" stroke-width="1.0" />
<text x="436.60" y="406.00" font-size="6.0" text-anchor="start" fill="#333" textLength="22.0" lengthAdjust="spacingAndGlyphs" >&gt; median</text>
<line x1="361.90" y1="414.70" x2="361.90" y2="485.50" stroke="#2a2a2a" stroke-width="1.0" />
<line x1="361.90" y1="485.00" x2="477.50" y2="485.00" stroke="#2a2a2a" stroke-width="1.0" />
<line x1="358.60" y1="482.20" x2="361.90" y2="482.20" stroke="#2a2a2a" stroke-width="0.9" />
<text x="356.00" y="484.60" font-size="6.7" text-anchor="end" fill="#333" >0.00</text>
<line x1="358.60" y1="465.93" x2="361.90" y2="465.93" stroke="#2a2a2a" stroke-width="0.9" />
<text x="356.00" y="468.32" font-size="6.7" text-anchor="end" fill="#333" >0.25</text>
<line x1="358.60" y1="449.65" x2="361.90" y2="449.65" stroke="#2a2a2a" stroke-width="0.9" />
<text x="356.00" y="452.05" font-size="6.7" text-anchor="end" fill="#333" >0.50</text>
<line x1="358.60" y1="433.38" x2="361.90" y2="433.38" stroke="#2a2a2a" stroke-width="0.9" />
<text x="356.00" y="435.77" font-size="6.7" text-anchor="end" fill="#333" >0.75</text>
<line x1="358.60" y1="417.10" x2="361.90" y2="417.10" stroke="#2a2a2a" stroke-width="0.9" />
<text x="356.00" y="419.50" font-size="6.7" text-anchor="end" fill="#333" >1.00</text>
<line x1="367.00" y1="485.00" x2="367.00" y2="487.60" stroke="#2a2a2a" stroke-width="0.8" />
<text x="367.00" y="497.80" font-size="6.7" text-anchor="middle" fill="#333" >0</text>
<line x1="403.24" y1="485.00" x2="403.24" y2="487.60" stroke="#2a2a2a" stroke-width="0.8" />
<text x="403.24" y="497.80" font-size="6.7" text-anchor="middle" fill="#333" >2</text>
<line x1="439.48" y1="485.00" x2="439.48" y2="487.60" stroke="#2a2a2a" stroke-width="0.8" />
<text x="439.48" y="497.80" font-size="6.7" text-anchor="middle" fill="#333" >4</text>
<line x1="475.72" y1="485.00" x2="475.72" y2="487.60" stroke="#2a2a2a" stroke-width="0.8" />
<text x="475.72" y="497.80" font-size="6.7" text-anchor="middle" fill="#333" >6</text>
<text x="421.50" y="509.50" font-size="7.7" text-anchor="middle" fill="#222" textLength="88.5" lengthAdjust="spacingAndGlyphs" stroke="#222" stroke-width="0.15">Time from AZA treatment (years)</text>
<text x="336.00" y="449.65" font-size="7.7" text-anchor="middle" fill="#222" textLength="39.5" lengthAdjust="spacingAndGlyphs" transform="rotate(-90 336.00 449.65)" stroke="#222" stroke-width="0.15">Overall survival</text>
<polyline points="368.25,416.75 374.03,416.75 374.03,419.51 375.78,419.51 375.78,422.02 377.54,422.02 377.54,424.53 379.55,424.53 379.55,428.05 381.56,428.05 381.56,430.56 384.07,430.56 384.07,432.57 385.57,432.57 385.57,436.34 387.08,436.34 387.08,438.85 388.58,438.85 388.58,442.62 390.09,442.62 390.09,446.38 391.09,446.38 391.09,450.15 392.10,450.15 392.10,453.92 393.35,453.92 393.35,458.19 394.61,458.19 394.61,459.70 396.61,459.70 396.61,461.45 398.37,461.45 398.37,465.22 399.63,465.22 399.63,470.75 401.13,470.75 401.13,471.50 404.14,471.50 404.14,475.77 405.15,475.77 405.15,479.79 409.66,479.79 409.66,481.04 410.67,481.04 410.67,481.04" fill="none" stroke="#c02848" stroke-width="1.0" />
<polyline points="368.25,416.75 370.01,416.75 370.01,419.51 371.02,419.51 371.02,422.53 372.52,422.53 372.52,425.54 374.03,425.54 374.03,428.80 375.53,428.80 375.53,432.57 377.04,432.57 377.04,436.34 378.29,436.34 378.29,440.11 379.05,440.11 379.05,443.87 379.55,443.87 379.55,448.90 380.30,448.90 380.30,453.92 381.05,453.92 381.05,458.19 382.06,458.19 382.06,463.97 383.31,463.97 383.31,466.48 385.07,466.48 385.07,470.24 386.58,470.24 386.58,471.50 388.33,471.50 388.33,474.77 390.09,474.77 390.09,477.78 391.60,477.78 391.60,478.28 395.86,478.28 395.86,479.54 398.37,479.54 398.37,479.54" fill="none" stroke="#35a9cf" stroke-width="1.0" />
<text x="409.50" y="454.20" font-size="6.0" text-anchor="start" fill="#333" textLength="23.0" lengthAdjust="spacingAndGlyphs" ><tspan font-style="italic">P</tspan> &lt; .0001</text>
<text x="333.60" y="523.60" font-size="5.4" text-anchor="start" fill="#333" textLength="22.2" lengthAdjust="spacingAndGlyphs" >&#8804; median</text>
<text x="333.60" y="532.80" font-size="5.4" text-anchor="start" fill="#333" textLength="22.2" lengthAdjust="spacingAndGlyphs" >&gt; median</text>
<text x="368.20" y="523.60" font-size="6.0" text-anchor="middle" fill="#333" >48</text>
<text x="403.54" y="523.60" font-size="6.0" text-anchor="middle" fill="#333" >4</text>
<text x="439.78" y="523.60" font-size="6.0" text-anchor="middle" fill="#333" >0</text>
<text x="476.02" y="523.60" font-size="6.0" text-anchor="middle" fill="#333" >0</text>
<text x="368.20" y="532.80" font-size="6.0" text-anchor="middle" fill="#333" >48</text>
<text x="403.54" y="532.80" font-size="6.0" text-anchor="middle" fill="#333" >0</text>
<text x="439.78" y="532.80" font-size="6.0" text-anchor="middle" fill="#333" >0</text>
<text x="476.02" y="532.80" font-size="6.0" text-anchor="middle" fill="#333" >0</text>
<rect x="0.5" y="0.5" width="519" height="540" fill="none" stroke="#555" stroke-width="1"/>
</svg>
</body></html>
